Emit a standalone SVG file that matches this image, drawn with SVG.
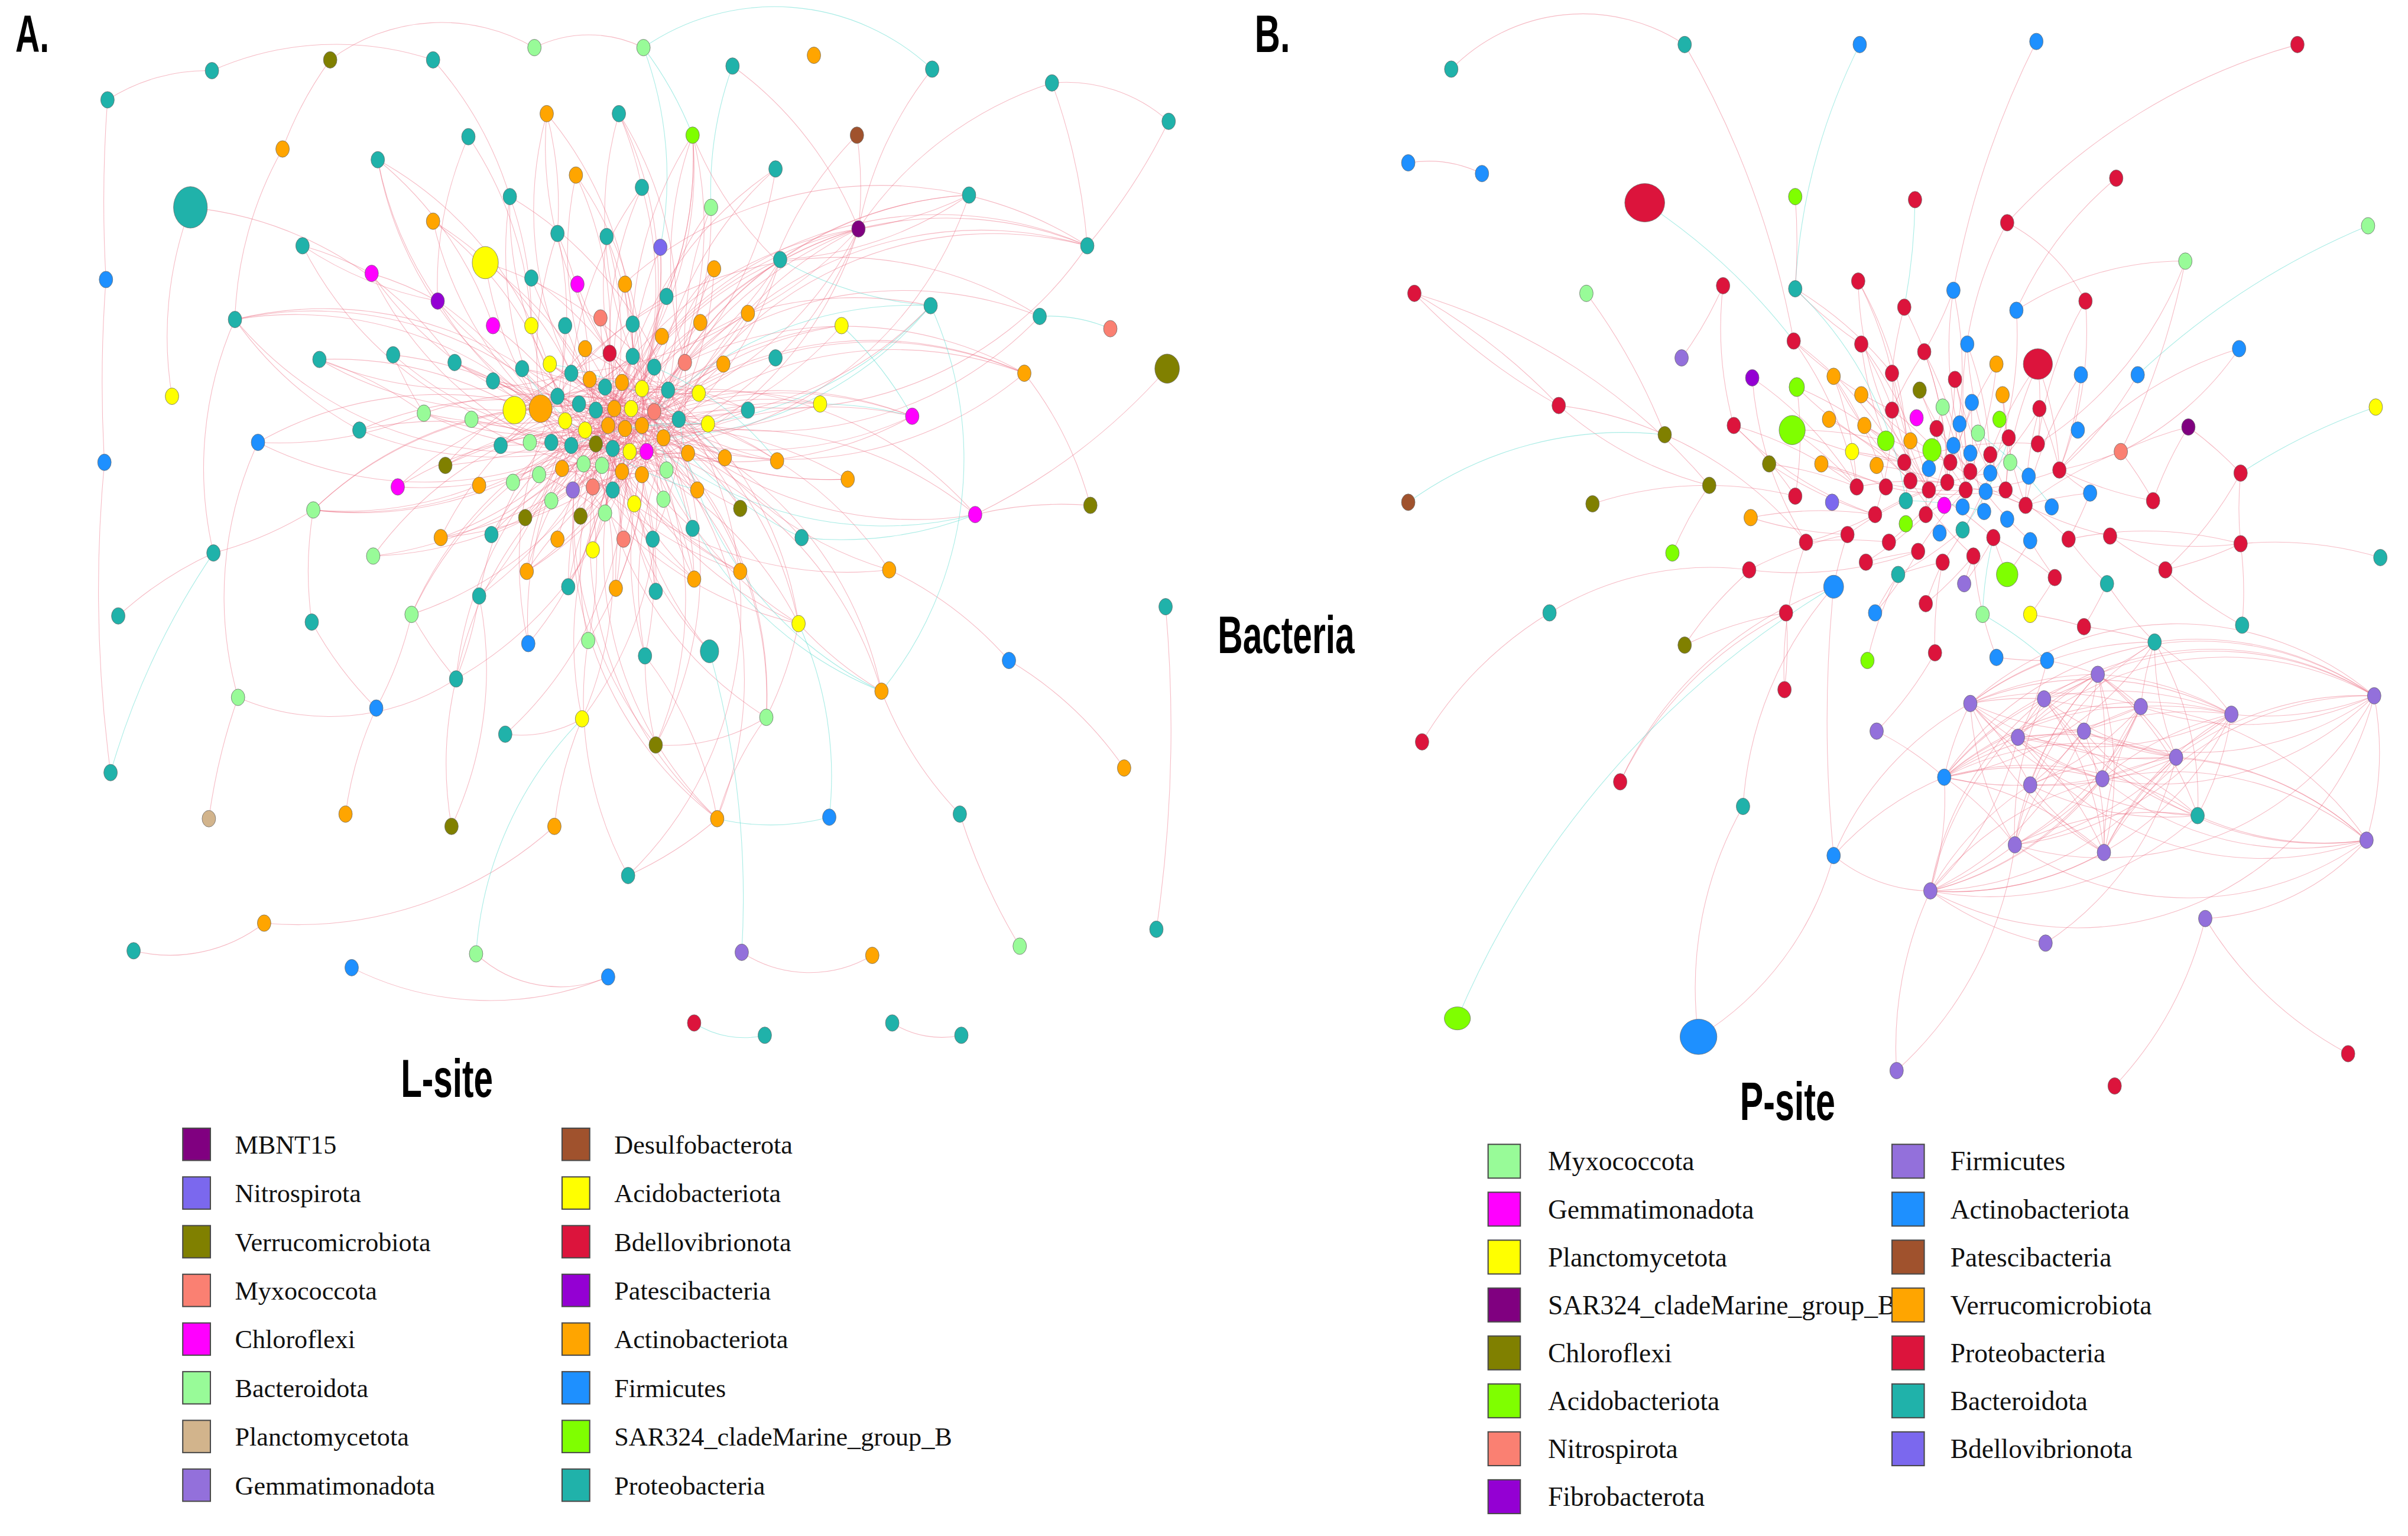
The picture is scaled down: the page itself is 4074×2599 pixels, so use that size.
<svg xmlns="http://www.w3.org/2000/svg" width="4074" height="2599" viewBox="0 0 4074 2599">
<style>
.pu{fill:#800080}.sl{fill:#7B68EE}.ol{fill:#808000}.sa{fill:#FA8072}.ma{fill:#FF00FF}.pg{fill:#98FB98}.ta{fill:#D2B48C}.mp{fill:#9370DB}.si{fill:#A0522D}.ye{fill:#FFFF00}.cr{fill:#DC143C}.vi{fill:#9400D3}.or{fill:#FFA500}.bl{fill:#1E90FF}.ch{fill:#7FFF00}.te{fill:#20B2AA}
ellipse{stroke:#6a6a6a;stroke-width:0.3}
.lg rect{stroke:#4a4a4a;stroke-width:0.8}
.e path{fill:none;stroke:#EC6F83;stroke-width:0.42;stroke-opacity:0.48}
.e path.c{stroke:#5FDCD0;stroke-opacity:0.55}
.lg{font-family:"Liberation Serif","Times New Roman",serif;font-size:17px;fill:#111}
.ttl{font-family:"Liberation Sans",Arial,sans-serif;font-weight:bold;fill:#000}
</style>
<rect x="0" y="0" width="4074" height="2599" fill="#ffffff"/>
<g transform="scale(2.5982,2.599)">
<g id="connectors" class="e">
<path d="M397 230A240 240 0 0 1 356 74"/><path d="M412 232A240 240 0 0 0 356 74"/>
<path d="M412 232A240 240 0 0 1 403 74"/><path d="M418 253A240 240 0 0 0 403 74"/>
<path d="M446 236A240 240 0 0 1 451 88"/><path d="M426 268A240 240 0 0 0 451 88"/><path d="M412 232A240 240 0 0 1 451 88"/><path d="M434 193A240 240 0 0 0 451 88"/>
<path d="M426 268A240 240 0 0 1 505 110"/><path d="M446 236A240 240 0 0 0 505 110"/>
<path d="M384 247A240 240 0 0 1 375 114"/><path d="M397 230A240 240 0 0 0 375 114"/>
<path d="M352 266A240 240 0 0 1 332 128"/><path d="M346 212A240 240 0 0 0 332 128"/>
<path d="M418 253A240 240 0 0 0 418 122"/><path d="M397 230A240 240 0 0 1 418 122"/>
<path d="M446 236A240 240 0 0 1 463 135"/><path d="M426 268A240 240 0 0 0 463 135"/>
<path d="M400 266A240 240 0 0 1 559 149"/><path d="M426 268A240 240 0 0 0 559 149"/><path d="M407 279A240 240 0 0 1 559 149"/><path d="M432 285A240 240 0 0 0 559 149"/><path d="M446 236A240 240 0 0 1 559 149"/><path d="M487 204A240 240 0 0 0 559 149"/><path d="M456 210A240 240 0 0 1 559 149"/>
<path d="M412 232A240 240 0 0 1 430 161"/><path d="M418 253A240 240 0 0 0 430 161"/>
<path d="M397 230A240 240 0 0 1 395 154"/><path d="M400 266A240 240 0 0 0 395 154"/>
<path d="M384 247A240 240 0 0 0 363 152"/><path d="M352 266A240 240 0 0 1 363 152"/>
<path d="M352 266A240 240 0 0 1 282 144"/><path d="M372 290A240 240 0 0 0 282 144"/>
<path d="M285 196A240 240 0 0 1 246 104"/><path d="M321 212A240 240 0 0 0 246 104"/>
<path d="M285 196A240 240 0 0 0 242 178"/><path d="M352 266A240 240 0 0 1 242 178"/>
<path d="M388 289A240 240 0 0 1 285 196"/><path d="M352 266A240 240 0 0 0 285 196"/>
<path d="M352 266A240 240 0 0 1 316 171"/><path d="M384 247A240 240 0 0 0 316 171"/>
<path d="M384 247A240 240 0 0 1 346 181"/><path d="M397 230A240 240 0 0 0 346 181"/>
<path d="M397 230A240 240 0 0 1 376 185"/>
<path d="M400 266A240 240 0 0 1 407 185"/><path d="M418 253A240 240 0 0 0 407 185"/><path d="M426 268A240 240 0 0 1 407 185"/>
<path d="M426 268A240 240 0 0 1 465 175"/><path d="M432 285A240 240 0 0 0 465 175"/><path d="M446 236A240 240 0 0 1 465 175"/>
<path d="M407 279A240 240 0 0 1 434 193"/><path d="M400 266A240 240 0 0 0 434 193"/>
<path d="M426 268A240 240 0 0 1 508 169"/><path d="M432 285A240 240 0 0 0 508 169"/><path d="M446 236A240 240 0 0 0 508 169"/><path d="M400 266A240 240 0 0 1 508 169"/>
<path d="M426 268A240 240 0 0 1 631 127"/><path d="M508 169A240 240 0 0 0 631 127"/>
<path class="c" d="M426 268A240 240 0 0 1 606 199"/><path class="c" d="M432 285A240 240 0 0 0 606 199"/><path d="M487 204A240 240 0 0 1 606 199"/>
<path d="M426 268A240 240 0 0 1 548 212"/><path d="M432 285A240 240 0 0 0 548 212"/>
<path d="M400 266A240 240 0 0 1 487 204"/><path d="M407 279A240 240 0 0 0 487 204"/><path d="M446 236A240 240 0 0 1 487 204"/>
<path d="M400 266A240 240 0 0 0 456 210"/><path d="M388 289A240 240 0 0 1 456 210"/>
<path d="M407 279A240 240 0 0 1 431 219"/><path d="M372 290A240 240 0 0 0 431 219"/>
<path d="M388 289A240 240 0 0 1 412 211"/>
<path d="M400 266A240 240 0 0 1 391 207"/><path d="M407 279A240 240 0 0 0 391 207"/>
<path d="M388 289A240 240 0 0 0 368 212"/><path d="M372 290A240 240 0 0 1 368 212"/>
<path d="M372 290A240 240 0 0 1 346 212"/><path d="M388 289A240 240 0 0 0 321 212"/>
<path d="M388 289A240 240 0 0 1 153 208"/><path d="M352 266A240 240 0 0 0 153 208"/><path d="M234 280A240 240 0 0 1 153 208"/>
<path d="M352 266A240 240 0 0 1 208 234"/><path d="M372 290A240 240 0 0 0 208 234"/><path d="M276 269A240 240 0 0 0 208 234"/>
<path d="M388 289A240 240 0 0 1 256 231"/><path d="M276 269A240 240 0 0 1 256 231"/>
<path d="M400 266A240 240 0 0 1 296 236"/><path d="M352 266A240 240 0 0 0 296 236"/>
<path d="M407 279A240 240 0 0 0 321 248"/><path d="M388 289A240 240 0 0 1 321 248"/>
<path d="M242 178A240 240 0 0 0 197 160"/><path d="M285 196A240 240 0 0 1 197 160"/>
<path d="M124 135A240 240 0 0 0 112 258"/>
<path d="M352 266A240 240 0 0 0 168 288"/><path d="M276 269A240 240 0 0 1 168 288"/>
<path d="M372 290A240 240 0 0 0 234 280"/><path d="M388 289A240 240 0 0 1 234 280"/>
<path d="M400 266A240 240 0 0 1 276 269"/><path d="M426 268A240 240 0 0 0 276 269"/><path d="M407 279A240 240 0 0 1 276 269"/>
<path d="M400 266A240 240 0 0 0 307 273"/><path d="M407 279A240 240 0 0 1 307 273"/>
<path d="M426 268A240 240 0 0 1 326 290"/><path d="M418 253A240 240 0 0 0 326 290"/>
<path d="M407 279A240 240 0 0 0 290 303"/><path d="M400 266A240 240 0 0 1 290 303"/>
<path d="M388 289A240 240 0 0 1 259 317"/><path d="M432 285A240 240 0 0 0 259 317"/>
<path d="M352 266A240 240 0 0 0 204 332"/><path d="M372 290A240 240 0 0 1 204 332"/><path d="M400 266A240 240 0 0 0 204 332"/><path d="M312 316A240 240 0 0 1 204 332"/>
<path d="M204 332A240 240 0 0 1 139 360"/>
<path d="M388 289A240 240 0 0 1 243 362"/><path d="M400 266A240 240 0 0 0 243 362"/>
<path d="M400 266A240 240 0 0 1 287 350"/><path d="M384 247A240 240 0 0 0 287 350"/>
<path d="M426 268A240 240 0 0 1 320 348"/><path d="M418 253A240 240 0 0 0 320 348"/>
<path d="M426 268A240 240 0 0 1 667 243"/><path d="M432 285A240 240 0 0 0 667 243"/><path d="M446 236A240 240 0 0 1 667 243"/>
<path d="M446 236A240 240 0 0 1 677 206"/><path d="M426 268A240 240 0 0 0 677 206"/>
<path d="M400 266A240 240 0 0 1 708 160"/><path d="M432 285A240 240 0 0 1 708 160"/><path d="M559 149A240 240 0 0 1 708 160"/><path d="M487 204A240 240 0 0 1 708 160"/>
<path d="M426 268A240 240 0 0 1 594 271"/><path d="M432 285A240 240 0 0 0 594 271"/><path d="M407 279A240 240 0 0 1 594 271"/>
<path d="M400 266A240 240 0 0 1 534 263"/><path d="M407 279A240 240 0 0 0 534 263"/>
<path d="M407 279A240 240 0 0 1 487 267"/><path d="M388 289A240 240 0 0 0 487 267"/>
<path d="M388 289A240 240 0 0 1 461 276"/>
<path d="M400 266A240 240 0 0 0 552 312"/><path d="M407 279A240 240 0 0 1 552 312"/>
<path d="M426 268A240 240 0 0 0 506 300"/>
<path d="M388 289A240 240 0 0 0 472 298"/><path d="M418 253A240 240 0 0 1 472 298"/>
<path d="M426 268A240 240 0 0 0 635 335"/><path d="M432 285A240 240 0 0 1 635 335"/><path class="c" d="M400 266A240 240 0 0 0 635 335"/><path d="M635 335A240 240 0 0 1 710 329"/><path class="c" d="M522 350A240 240 0 0 0 635 335"/>
<path d="M400 266A240 240 0 0 0 482 331"/><path d="M418 253A240 240 0 0 1 482 331"/>
<path class="c" d="M426 268A240 240 0 0 0 522 350"/><path d="M407 279A240 240 0 0 1 522 350"/>
<path d="M384 247A240 240 0 0 0 451 344"/><path d="M397 230A240 240 0 0 1 451 344"/>
<path d="M418 253A240 240 0 0 1 454 319"/><path d="M384 247A240 240 0 0 0 454 319"/>
<path d="M384 247A240 240 0 0 1 432 325"/><path d="M397 230A240 240 0 0 0 413 328"/>
<path d="M418 253A240 240 0 0 1 406 351"/><path d="M412 232A240 240 0 0 0 406 351"/>
<path d="M384 247A240 240 0 0 0 425 351"/><path d="M446 236A240 240 0 0 1 425 351"/>
<path d="M400 266A240 240 0 0 1 386 358"/><path d="M426 268A240 240 0 0 0 386 358"/>
<path d="M418 253A240 240 0 0 0 363 351"/>
<path d="M412 232A240 240 0 0 1 342 337"/><path d="M426 268A240 240 0 0 0 342 337"/>
<path d="M418 253A240 240 0 0 0 378 336"/><path d="M446 236A240 240 0 0 1 378 336"/>
<path d="M397 230A240 240 0 0 1 394 334"/>
<path d="M426 268A240 240 0 0 1 343 372"/><path d="M412 232A240 240 0 0 0 343 372"/><path d="M446 236A240 240 0 0 1 343 372"/><path d="M418 253A240 240 0 0 0 343 372"/>
<path d="M397 230A240 240 0 0 1 370 382"/><path d="M400 266A240 240 0 0 0 370 382"/>
<path d="M418 253A240 240 0 0 1 401 383"/><path d="M446 236A240 240 0 0 0 401 383"/>
<path d="M407 279A240 240 0 0 1 427 385"/><path d="M412 232A240 240 0 0 0 427 385"/>
<path d="M400 266A240 240 0 0 1 452 377"/><path d="M426 268A240 240 0 0 0 452 377"/><path d="M397 230A240 240 0 0 1 452 377"/><path d="M384 247A240 240 0 0 0 452 377"/>
<path d="M352 266A240 240 0 0 0 482 372"/><path d="M407 279A240 240 0 0 1 482 372"/><path d="M388 289A240 240 0 0 0 482 372"/>
<path d="M352 266A240 240 0 0 0 579 371"/><path d="M426 268A240 240 0 0 1 579 371"/>
<path d="M400 266A240 240 0 0 1 312 388"/><path d="M412 232A240 240 0 0 0 312 388"/>
<path d="M407 279A240 240 0 0 1 268 400"/><path d="M426 268A240 240 0 0 0 268 400"/>
<path d="M418 253A240 240 0 0 1 383 417"/><path d="M400 266A240 240 0 0 0 383 417"/>
<path d="M400 266A240 240 0 0 1 420 427"/><path d="M446 236A240 240 0 0 0 420 427"/>
<path d="M407 279A240 240 0 0 0 462 424"/>
<path d="M352 266A240 240 0 0 0 520 406"/><path d="M388 289A240 240 0 0 1 520 406"/><path d="M384 247A240 240 0 0 0 520 406"/><path d="M397 230A240 240 0 0 1 520 406"/>
<path class="c" d="M426 268A240 240 0 0 0 574 450"/><path d="M400 266A240 240 0 0 1 574 450"/>
<path d="M418 253A240 240 0 0 1 379 468"/><path d="M426 268A240 240 0 0 0 379 468"/>
<path d="M388 289A240 240 0 0 0 499 467"/><path d="M384 247A240 240 0 0 1 499 467"/>
<path d="M412 232A240 240 0 0 1 427 485"/><path d="M397 230A240 240 0 0 0 427 485"/>
<path d="M407 279A240 240 0 0 1 329 478"/>
<path d="M418 253A240 240 0 0 1 297 442"/><path d="M372 290A240 240 0 0 0 297 442"/>
<path d="M407 279A240 240 0 0 0 467 533"/><path d="M384 247A240 240 0 0 1 467 533"/><path d="M400 266A240 240 0 0 0 467 533"/>
<path d="M409 570A240 240 0 0 0 467 533"/>
<path d="M381 280A240 240 0 0 1 246 104"/><path d="M381 280A240 240 0 0 0 153 208"/><path d="M381 280A240 240 0 0 1 204 332"/><path d="M381 280A240 240 0 0 0 268 400"/><path d="M381 280A240 240 0 0 1 379 468"/><path d="M381 280A240 240 0 0 0 467 533"/><path d="M381 280A240 240 0 0 1 574 450"/><path d="M381 280A240 240 0 0 0 594 271"/><path d="M381 280A240 240 0 0 1 559 149"/><path d="M381 280A240 240 0 0 0 451 88"/><path d="M381 280A240 240 0 0 1 332 128"/>
<path d="M418 277A240 240 0 0 0 375 114"/><path d="M418 277A240 240 0 0 1 285 196"/><path d="M418 277A240 240 0 0 0 234 280"/><path d="M418 277A240 240 0 0 1 243 362"/><path d="M418 277A240 240 0 0 0 297 442"/><path d="M418 277A240 240 0 0 1 427 485"/><path d="M418 277A240 240 0 0 0 520 406"/><path d="M418 277A240 240 0 0 1 667 243"/><path class="c" d="M418 277A240 240 0 0 0 606 199"/><path d="M418 277A240 240 0 0 1 463 135"/><path d="M418 277A240 240 0 0 0 508 169"/>
<path d="M372 243A240 240 0 0 1 356 74"/><path d="M372 243A240 240 0 0 0 282 144"/><path d="M372 243A240 240 0 0 1 208 234"/><path d="M372 243A240 240 0 0 0 290 303"/><path d="M372 243A240 240 0 0 1 312 388"/><path d="M372 243A240 240 0 0 0 344 419"/><path d="M372 243A240 240 0 0 1 499 467"/><path d="M372 243A240 240 0 0 0 552 312"/><path d="M372 243A240 240 0 0 1 677 206"/><path d="M372 243A240 240 0 0 0 487 204"/><path d="M372 243A240 240 0 0 1 418 122"/>
<path d="M435 254A240 240 0 0 0 316 171"/><path d="M435 254A240 240 0 0 1 168 288"/><path d="M435 254A240 240 0 0 0 259 317"/><path d="M435 254A240 240 0 0 1 287 350"/><path d="M435 254A240 240 0 0 0 370 382"/><path d="M435 254A240 240 0 0 1 409 570"/><path d="M435 254A240 240 0 0 0 579 371"/><path d="M435 254A240 240 0 0 1 635 335"/><path d="M435 254A240 240 0 0 0 708 160"/><path d="M435 254A240 240 0 0 1 548 212"/><path d="M435 254A240 240 0 0 0 403 74"/>
<path d="M399 292A240 240 0 0 1 197 160"/><path d="M399 292A240 240 0 0 0 153 208"/><path d="M399 292A240 240 0 0 1 276 269"/><path d="M399 292A240 240 0 0 0 320 348"/><path d="M399 292A240 240 0 0 1 401 383"/><path d="M399 292A240 240 0 0 0 462 424"/><path d="M399 292A240 240 0 0 1 534 263"/><path d="M399 292A240 240 0 0 0 631 127"/><path d="M399 292A240 240 0 0 1 505 110"/><path d="M399 292A240 240 0 0 0 430 161"/>
<path d="M405 307A240 240 0 0 1 242 178"/><path d="M405 307A240 240 0 0 0 256 231"/><path d="M405 307A240 240 0 0 1 307 273"/><path d="M405 307A240 240 0 0 0 343 372"/><path d="M405 307A240 240 0 0 1 427 385"/><path d="M405 307A240 240 0 0 0 482 372"/><path d="M405 307A240 240 0 0 1 594 271"/><path d="M405 307A240 240 0 0 0 559 149"/><path d="M405 307A240 240 0 0 1 465 175"/><path d="M405 307A240 240 0 0 0 395 154"/>
<path d="M363 258A240 240 0 0 0 246 104"/><path d="M363 258A240 240 0 0 1 296 236"/><path d="M363 258A240 240 0 0 0 326 290"/><path d="M363 258A240 240 0 0 1 383 417"/><path d="M363 258A240 240 0 0 0 452 377"/><path d="M363 258A240 240 0 0 1 506 300"/><path d="M363 258A240 240 0 0 0 487 267"/><path d="M363 258A240 240 0 0 1 434 193"/><path d="M363 258A240 240 0 0 0 363 152"/>
<path d="M442 273A240 240 0 0 0 332 128"/><path d="M442 273A240 240 0 0 1 321 248"/><path d="M442 273A240 240 0 0 0 290 303"/><path d="M442 273A240 240 0 0 1 287 350"/><path d="M442 273A240 240 0 0 0 420 427"/><path d="M442 273A240 240 0 0 1 520 406"/><path class="c" d="M442 273A240 240 0 0 0 574 450"/><path d="M442 273A240 240 0 0 1 667 243"/><path d="M442 273A240 240 0 0 0 606 199"/><path d="M442 273A240 240 0 0 1 559 149"/>
<path d="M70 65A120 120 0 0 1 138 46"/><path d="M138 46A200 200 0 0 1 282 39"/><path d="M215 39A120 120 0 0 1 348 31"/><path d="M348 31A80 80 0 0 1 419 31"/>
<path class="c" d="M419 31A150 150 0 0 1 607 45"/>
<path d="M70 65A900 900 0 0 0 69 182"/><path d="M69 182A900 900 0 0 0 68 301"/><path d="M68 301A900 900 0 0 0 72 503"/>
<path d="M124 135A240 240 0 0 1 296 236"/><path d="M282 39A240 240 0 0 1 332 128"/><path d="M215 39A240 240 0 0 0 184 97"/><path d="M184 97A240 240 0 0 0 153 208"/>
<path class="c" d="M477 43A240 240 0 0 0 463 135"/><path d="M477 43A240 240 0 0 1 559 149"/>
<path class="c" d="M419 31A240 240 0 0 1 451 88"/><path class="c" d="M419 31A240 240 0 0 1 430 161"/>
<path d="M607 45A240 240 0 0 0 559 149"/><path d="M685 54A100 100 0 0 1 761 79"/><path d="M685 54A400 400 0 0 1 708 160"/><path d="M685 54A240 240 0 0 0 559 149"/><path d="M761 79A400 400 0 0 1 708 160"/>
<path d="M558 88A240 240 0 0 1 559 149"/><path d="M558 88A240 240 0 0 0 505 169"/><path d="M451 88A240 240 0 0 1 434 193"/><path d="M451 88A240 240 0 0 0 505 169"/>
<path d="M356 74A240 240 0 0 1 363 152"/><path d="M403 74A240 240 0 0 1 418 122"/>
<path d="M406 185A250 250 0 0 1 708 160"/><path class="c" d="M723 214A100 100 0 0 0 677 206"/><path d="M760 240A400 400 0 0 1 635 335"/>
<path d="M631 127A240 240 0 0 1 559 149"/><path d="M631 127A240 240 0 0 0 508 169"/>
<path d="M305 89A240 240 0 0 1 346 212"/><path d="M305 89A240 240 0 0 0 285 196"/>
<path d="M172 601A100 100 0 0 1 87 619"/><path d="M172 601A250 250 0 0 0 361 538"/><path d="M310 621A80 80 0 0 0 396 636"/><path d="M229 630A200 200 0 0 0 396 636"/>
<path d="M483 620A80 80 0 0 0 568 622"/><path d="M625 530A400 400 0 0 0 664 616"/><path class="c" d="M452 666A60 60 0 0 0 498 674"/><path d="M581 666A60 60 0 0 0 626 674"/>
<path d="M657 430A240 240 0 0 1 732 500"/><path d="M657 430A240 240 0 0 0 579 371"/><path d="M759 395A900 900 0 0 1 753 605"/>
<path d="M155 454A150 150 0 0 0 297 442"/><path d="M297 442A240 240 0 0 0 312 388"/><path d="M297 442A240 240 0 0 1 268 400"/>
<path d="M245 461A240 240 0 0 1 203 405"/><path d="M245 461A240 240 0 0 0 268 400"/><path d="M155 454A240 240 0 0 1 168 288"/>
<path d="M379 468A80 80 0 0 1 329 478"/><path d="M499 467A120 120 0 0 1 427 485"/><path d="M499 467A200 200 0 0 0 467 533"/><path d="M409 570A240 240 0 0 1 383 417"/>
<path d="M294 538A240 240 0 0 1 297 442"/><path d="M294 538A240 240 0 0 0 312 388"/><path d="M361 538A240 240 0 0 1 379 468"/>
<path class="c" d="M467 533A150 150 0 0 0 540 532"/><path class="c" d="M540 532A240 240 0 0 0 520 406"/><path d="M625 530A240 240 0 0 1 574 450"/>
<path d="M225 530A240 240 0 0 1 245 461"/><path d="M136 533A400 400 0 0 1 155 454"/><path class="c" d="M72 503A500 500 0 0 1 139 360"/>
<path class="c" d="M310 621A240 240 0 0 1 379 468"/><path class="c" d="M483 620A600 600 0 0 0 462 424"/>
<path d="M203 405A240 240 0 0 1 204 332"/><path d="M77 401A240 240 0 0 1 139 360"/><path d="M139 360A240 240 0 0 1 153 208"/>
<path d="M520 406A240 240 0 0 1 499 467"/><path d="M520 406A240 240 0 0 0 574 450"/><path class="c" d="M574 450A240 240 0 0 0 606 199"/><path d="M710 329A240 240 0 0 0 667 243"/>
<path d="M467 533A240 240 0 0 0 420 427"/><path d="M427 485A240 240 0 0 1 420 427"/><path d="M344 419A240 240 0 0 1 372 290"/><path d="M344 419A240 240 0 0 0 400 266"/>
<path class="c" d="M606 199A240 240 0 0 1 508 169"/><path class="c" d="M594 271A240 240 0 0 0 534 263"/><path class="c" d="M548 212A240 240 0 0 1 594 271"/>
<path d="M358 237A200 200 0 0 1 400 266"/><path d="M358 237A200 200 0 0 0 426 268"/><path d="M381 227A200 200 0 0 1 407 279"/><path d="M381 227A200 200 0 0 0 435 254"/>
<path d="M397 230A200 200 0 0 1 388 289"/><path d="M397 230A200 200 0 0 0 442 273"/><path d="M412 232A200 200 0 0 1 372 290"/><path d="M412 232A200 200 0 0 0 432 285"/>
<path d="M426 239A200 200 0 0 1 359 288"/><path d="M426 239A200 200 0 0 0 410 294"/><path d="M446 236A200 200 0 0 1 381 280"/><path d="M446 236A200 200 0 0 0 399 292"/>
<path d="M471 237A200 200 0 0 1 388 267"/><path d="M471 237A200 200 0 0 0 418 309"/><path d="M340 240A200 200 0 0 1 411 266"/><path d="M340 240A200 200 0 0 0 421 294"/>
<path d="M372 243A200 200 0 0 1 448 295"/><path d="M372 243A200 200 0 0 0 418 277"/><path d="M384 247A200 200 0 0 1 434 306"/><path d="M384 247A200 200 0 0 0 455 256"/>
<path d="M405 249A200 200 0 0 1 366 305"/><path d="M405 249A200 200 0 0 0 386 317"/><path d="M418 253A200 200 0 0 1 380 302"/><path d="M418 253A200 200 0 0 0 345 288"/>
<path d="M435 254A200 200 0 0 1 392 303"/><path d="M435 254A200 200 0 0 0 368 274"/><path d="M455 256A200 200 0 0 1 377 263"/><path d="M455 256A200 200 0 0 0 399 319"/>
<path d="M394 252A200 200 0 0 1 432 285"/><path d="M394 252A200 200 0 0 0 405 307"/><path d="M363 258A200 200 0 0 1 442 273"/><path d="M363 258A200 200 0 0 0 410 294"/>
<path d="M377 263A200 200 0 0 1 421 294"/><path d="M377 263A200 200 0 0 0 434 306"/><path d="M388 267A200 200 0 0 1 448 295"/><path d="M388 267A200 200 0 0 0 359 326"/>
<path d="M400 266A200 200 0 0 1 373 319"/><path d="M400 266A200 200 0 0 0 351 309"/><path d="M411 266A200 200 0 0 1 334 314"/><path d="M411 266A200 200 0 0 0 394 334"/>
<path d="M426 268A200 200 0 0 1 366 305"/><path d="M426 268A200 200 0 0 0 380 302"/><path d="M442 273A200 200 0 0 1 386 317"/><path d="M442 273A200 200 0 0 0 345 288"/>
<path d="M368 274A200 200 0 0 1 418 309"/><path d="M368 274A200 200 0 0 0 448 295"/><path d="M381 280A200 200 0 0 1 434 306"/><path d="M381 280A200 200 0 0 0 455 256"/>
<path d="M396 277A200 200 0 0 1 359 326"/><path d="M396 277A200 200 0 0 0 446 236"/><path d="M407 279A200 200 0 0 1 352 266"/><path d="M407 279A200 200 0 0 0 335 267"/>
<path d="M418 277A200 200 0 0 1 372 243"/><path d="M418 277A200 200 0 0 0 392 303"/><path d="M432 285A200 200 0 0 1 359 288"/><path d="M432 285A200 200 0 0 0 373 319"/>
<path d="M345 288A200 200 0 0 1 399 292"/><path d="M359 288A200 200 0 0 0 421 294"/><path d="M372 290A200 200 0 0 1 434 306"/><path d="M388 289A200 200 0 0 0 448 295"/>
<path d="M399 292A200 200 0 0 1 351 309"/><path d="M410 294A200 200 0 0 0 366 305"/><path d="M421 294A200 200 0 0 1 380 302"/><path d="M448 295A200 200 0 0 0 392 303"/>
<path d="M366 305A200 200 0 0 1 399 319"/><path d="M380 302A200 200 0 0 0 418 309"/><path d="M392 303A200 200 0 0 1 359 326"/><path d="M405 307A200 200 0 0 0 334 314"/>
<path d="M418 309A200 200 0 0 1 386 317"/><path d="M434 306A200 200 0 0 0 373 319"/><path d="M351 309A200 200 0 0 1 394 334"/><path d="M335 267A200 200 0 0 0 381 227"/>
<path d="M335 267A200 200 0 0 1 435 254"/><path d="M352 266A200 200 0 0 0 412 232"/><path d="M352 266A200 200 0 0 1 426 268"/><path d="M335 267A200 200 0 0 1 397 230"/><path d="M352 266A200 200 0 0 0 388 289"/>
<path d="M358 237A200 200 0 0 1 432 325"/><path d="M381 227A200 200 0 0 0 413 328"/><path d="M426 239A200 200 0 0 1 378 336"/><path d="M471 237A200 200 0 0 0 342 337"/>
<path d="M340 240A200 200 0 0 1 454 319"/><path d="M455 256A200 200 0 0 0 335 267"/><path d="M461 276A200 200 0 0 1 363 258"/><path d="M487 267A200 200 0 0 0 384 247"/>
<path d="M472 298A200 200 0 0 1 405 249"/><path d="M482 331A200 200 0 0 0 411 266"/><path d="M506 300A200 200 0 0 1 394 252"/><path d="M534 263A200 200 0 0 0 418 277"/>
<path class="c" d="M472 298A200 200 0 0 0 358 237"/><path class="c" d="M454 319A200 200 0 0 1 340 240"/><path class="c" d="M506 300A200 200 0 0 0 426 239"/><path class="c" d="M461 276A200 200 0 0 0 372 290"/>
<path d="M945 45A120 120 0 0 1 1097 29"/><path d="M1097 29A600 600 0 0 1 1168 222"/><path class="c" d="M1211 29A400 400 0 0 0 1169 188"/><path d="M1326 27A600 600 0 0 0 1272 189"/>
<path d="M1496 29A400 400 0 0 0 1307 145"/><path d="M917 106A80 80 0 0 1 965 113"/><path class="c" d="M1071 132A400 400 0 0 1 1168 222"/><path d="M1169 128A400 400 0 0 1 1169 188"/>
<path class="c" d="M1247 130A400 400 0 0 1 1240 200"/><path d="M1378 116A240 240 0 0 0 1313 202"/><path d="M1307 145A120 120 0 0 1 1358 196"/><path class="c" d="M1542 147A500 500 0 0 0 1392 244"/>
<path d="M1423 170A500 500 0 0 1 1381 294"/><path d="M1423 170A200 200 0 0 0 1313 202"/>
<path d="M921 191A400 400 0 0 1 1015 264"/><path d="M921 191A400 400 0 0 0 1015 264"/><path d="M921 191A400 400 0 0 1 1113 316"/><path d="M1033 191A400 400 0 0 1 1084 283"/>
<path d="M1015 264A240 240 0 0 1 1084 283"/><path d="M1015 264A240 240 0 0 0 1113 316"/><path class="c" d="M917 327A240 240 0 0 1 1084 283"/><path d="M1037 328A240 240 0 0 1 1113 316"/><path d="M1089 360A240 240 0 0 1 1113 316"/>
<path d="M1168 222A240 240 0 0 1 1209 317"/><path d="M1168 222A240 240 0 0 0 1232 267"/><path d="M1168 222A240 240 0 0 1 1244 313"/>
<path d="M1169 188A240 240 0 0 1 1232 243"/><path d="M1169 188A240 240 0 0 0 1212 224"/><path d="M1122 186A240 240 0 0 0 1129 277"/><path d="M1122 186A240 240 0 0 1 1095 233"/>
<path d="M1210 183A240 240 0 0 1 1232 243"/><path d="M1210 183A240 240 0 0 0 1256 319"/><path d="M1210 183A240 240 0 0 1 1241 326"/>
<path d="M1240 200A240 240 0 0 0 1232 243"/><path d="M1240 200A240 240 0 0 1 1268 314"/>
<path d="M1272 189A240 240 0 0 1 1253 229"/><path d="M1272 189A240 240 0 0 0 1283 307"/><path d="M1272 189A240 240 0 0 1 1270 301"/>
<path d="M1313 202A240 240 0 0 1 1296 308"/><path d="M1307 145A240 240 0 0 0 1283 307"/><path d="M1358 196A240 240 0 0 1 1341 306"/><path d="M1358 196A240 240 0 0 0 1327 289"/>
<path d="M1423 170A240 240 0 0 1 1327 289"/><path d="M1458 227A200 200 0 0 1 1381 294"/><path d="M1458 227A240 240 0 0 0 1341 306"/>
<path d="M1253 229A240 240 0 0 1 1268 314"/><path d="M1253 229A240 240 0 0 0 1232 267"/><path d="M1253 229A240 240 0 0 1 1280 319"/>
<path d="M1212 224A240 240 0 0 1 1244 313"/><path d="M1212 224A240 240 0 0 0 1228 287"/><path d="M1212 224A240 240 0 0 1 1256 319"/>
<path d="M1281 224A240 240 0 0 1 1296 308"/><path d="M1281 224A240 240 0 0 0 1306 319"/>
<path d="M1327 237A240 240 0 0 1 1327 289"/><path d="M1327 237A240 240 0 0 0 1306 319"/><path d="M1327 237A240 240 0 0 1 1341 306"/><path d="M1327 237A240 240 0 0 0 1296 296"/>
<path d="M1300 237A240 240 0 0 1 1283 307"/><path d="M1300 237A240 240 0 0 0 1268 314"/>
<path d="M1232 243A240 240 0 0 1 1244 313"/><path d="M1232 243A240 240 0 0 0 1256 319"/><path d="M1232 243A240 240 0 0 1 1221 335"/>
<path d="M1273 247A240 240 0 0 1 1280 319"/><path d="M1273 247A240 240 0 0 0 1296 308"/><path d="M1273 247A240 240 0 0 1 1254 335"/>
<path d="M1355 244A240 240 0 0 1 1341 306"/><path d="M1355 244A240 240 0 0 0 1319 329"/><path d="M1392 244A240 240 0 0 1 1341 306"/>
<path d="M1194 245A240 240 0 0 1 1228 317"/><path d="M1194 245A240 240 0 0 0 1244 313"/><path d="M1194 245A240 240 0 0 1 1209 317"/>
<path d="M1141 246A240 240 0 0 1 1209 317"/><path d="M1141 246A240 240 0 0 0 1176 353"/>
<path d="M1170 252A240 240 0 0 1 1228 287"/><path d="M1170 252A240 240 0 0 0 1240 301"/><path d="M1170 252A240 240 0 0 1 1169 323"/>
<path d="M1212 257A240 240 0 0 1 1256 319"/><path d="M1212 257A240 240 0 0 0 1270 301"/><path d="M1250 254A240 240 0 0 1 1268 314"/><path d="M1250 254A240 240 0 0 0 1283 307"/>
<path d="M1304 257A240 240 0 0 1 1306 319"/><path d="M1304 257A240 240 0 0 0 1319 329"/><path d="M1284 262A240 240 0 0 1 1270 301"/><path d="M1284 262A240 240 0 0 0 1292 333"/>
<path d="M1265 265A240 240 0 0 1 1280 319"/><path d="M1265 265A240 240 0 0 0 1254 335"/>
<path d="M1328 266A240 240 0 0 1 1296 308"/><path d="M1328 266A240 240 0 0 0 1319 329"/><path d="M1328 266A240 240 0 0 1 1341 306"/>
<path class="c" d="M1547 265A400 400 0 0 0 1459 308"/><path d="M1425 278A240 240 0 0 0 1381 294"/><path d="M1425 278A240 240 0 0 1 1459 308"/><path d="M1425 278A240 240 0 0 0 1402 326"/>
<path d="M1129 277A240 240 0 0 1 1209 317"/><path d="M1129 277A240 240 0 0 0 1221 335"/><path d="M1129 277A240 240 0 0 1 1169 323"/>
<path d="M1167 280A240 240 0 0 1 1228 287"/><path d="M1167 280A240 240 0 0 0 1240 301"/><path d="M1167 280A240 240 0 0 1 1209 317"/>
<path d="M1191 273A240 240 0 0 1 1244 313"/><path d="M1214 277A240 240 0 0 1 1256 319"/><path d="M1214 277A240 240 0 0 0 1270 301"/>
<path d="M1381 294A240 240 0 0 1 1341 306"/><path d="M1381 294A240 240 0 0 0 1319 329"/><path d="M1381 294A240 240 0 0 1 1402 326"/>
<path d="M1084 283A240 240 0 0 1 1176 353"/><path d="M1113 316A240 240 0 0 1 1169 323"/>
<path d="M1152 302A240 240 0 0 1 1209 317"/><path d="M1152 302A240 240 0 0 0 1221 335"/><path d="M1186 302A240 240 0 0 1 1228 317"/><path d="M1186 302A240 240 0 0 0 1256 319"/>
<path d="M1206 294A240 240 0 0 1 1240 301"/><path d="M1222 303A240 240 0 0 1 1268 314"/>
<path d="M1361 321A240 240 0 0 1 1341 306"/><path d="M1361 321A240 240 0 0 0 1319 329"/><path d="M1361 321A240 240 0 0 1 1347 351"/><path d="M1402 326A240 240 0 0 1 1341 306"/>
<path d="M1459 308A240 240 0 0 1 1410 371"/><path d="M1459 308A240 240 0 0 0 1459 354"/><path d="M1459 354A240 240 0 0 1 1374 349"/><path d="M1459 354A240 240 0 0 0 1347 351"/><path d="M1459 354A240 240 0 0 1 1410 371"/><path d="M1550 363A240 240 0 0 0 1459 354"/>
<path d="M1140 337A240 240 0 0 1 1221 335"/><path d="M1140 337A240 240 0 0 0 1203 348"/><path d="M1176 353A240 240 0 0 1 1230 353"/><path d="M1176 353A240 240 0 0 0 1221 335"/>
<path d="M1203 348A240 240 0 0 1 1256 319"/><path d="M1230 353A240 240 0 0 0 1268 314"/><path d="M1249 359A240 240 0 0 1 1280 319"/><path d="M1265 366A240 240 0 0 0 1296 308"/>
<path d="M1285 362A240 240 0 0 1 1244 313"/><path d="M1298 350A240 240 0 0 0 1256 319"/><path d="M1322 352A240 240 0 0 1 1283 307"/><path d="M1347 351A240 240 0 0 0 1306 319"/><path d="M1374 349A240 240 0 0 1 1319 329"/>
<path d="M1139 371A240 240 0 0 1 1203 348"/><path d="M1139 371A240 240 0 0 0 1249 359"/><path d="M1215 366A240 240 0 0 1 1249 359"/><path d="M1215 366A240 240 0 0 0 1254 335"/>
<path d="M1338 376A240 240 0 0 1 1322 352"/><path d="M1338 376A240 240 0 0 0 1298 350"/><path d="M1410 371A240 240 0 0 1 1374 349"/><path d="M1372 380A240 240 0 0 1 1347 351"/><path d="M1372 380A240 240 0 0 0 1403 418"/>
<path d="M1236 374A240 240 0 0 1 1265 366"/><path d="M1236 374A240 240 0 0 0 1278 345"/><path d="M1279 380A240 240 0 0 1 1285 362"/><path d="M1279 380A240 240 0 0 0 1298 350"/>
<path d="M1307 374A240 240 0 0 1 1298 350"/><path d="M1307 374A240 240 0 0 0 1322 352"/><path d="M1194 382A240 240 0 0 1 1203 348"/>
<path d="M1209 317A200 200 0 0 1 1268 314"/><path d="M1228 317A200 200 0 0 0 1306 319"/><path d="M1244 313A200 200 0 0 1 1319 329"/><path d="M1256 319A200 200 0 0 0 1341 306"/><path d="M1221 335A200 200 0 0 1 1296 308"/><path d="M1254 335A200 200 0 0 0 1308 285"/><path d="M1240 301A200 200 0 0 1 1327 289"/><path d="M1261 279A200 200 0 0 0 1283 307"/><path d="M1232 267A200 200 0 0 1 1280 319"/><path d="M1270 301A200 200 0 0 0 1319 329"/>
<path class="c" d="M1241 326A200 200 0 0 1 1292 333"/><path class="c" d="M1278 345A200 200 0 0 0 1308 285"/><path class="c" d="M1288 282A200 200 0 0 1 1336 330"/><path class="c" d="M1169 188A240 240 0 0 1 1241 326"/>
<path d="M1009 399A200 200 0 0 1 1139 371"/><path d="M926 483A240 240 0 0 1 1009 399"/><path d="M1055 509A240 240 0 0 1 1163 399"/><path d="M1055 509A240 240 0 0 1 1194 382"/>
<path d="M1097 420A240 240 0 0 1 1163 399"/><path d="M1097 420A240 240 0 0 1 1140 371"/><path class="c" d="M949 663A600 600 0 0 1 1194 382"/>
<path d="M1106 675A240 240 0 0 1 1135 525"/><path d="M1106 675A200 200 0 0 0 1194 557"/><path d="M1194 557A900 900 0 0 1 1194 382"/><path d="M1194 557A200 200 0 0 1 1266 506"/><path d="M1194 557A100 100 0 0 0 1257 580"/>
<path d="M1235 697A240 240 0 0 1 1257 580"/><path d="M1235 697A240 240 0 0 0 1312 550"/><path d="M1377 707A240 240 0 0 0 1436 598"/><path d="M1529 686A240 240 0 0 1 1436 598"/><path d="M1436 598A150 150 0 0 0 1541 547"/>
<path d="M1332 614A200 200 0 0 1 1257 580"/><path d="M1332 614A200 200 0 0 0 1417 493"/><path d="M1222 476A240 240 0 0 0 1260 425"/>
<path d="M1162 449A240 240 0 0 1 1176 353"/><path d="M1162 449A240 240 0 0 0 1163 399"/><path d="M1221 399A240 240 0 0 1 1236 374"/><path d="M1221 399A240 240 0 0 0 1249 359"/>
<path d="M1254 393A240 240 0 0 1 1265 366"/><path d="M1254 393A240 240 0 0 0 1285 362"/><path class="c" d="M1291 400A240 240 0 0 1 1298 350"/><path class="c" d="M1291 400A240 240 0 0 1 1333 430"/>
<path d="M1322 400A240 240 0 0 1 1357 408"/><path d="M1322 400A240 240 0 0 0 1338 376"/><path d="M1357 408A240 240 0 0 1 1403 418"/><path d="M1357 408A240 240 0 0 0 1372 380"/>
<path d="M1460 407A240 240 0 0 1 1410 371"/><path d="M1460 407A240 240 0 0 0 1459 354"/><path d="M1216 430A240 240 0 0 1 1236 374"/><path d="M1260 425A240 240 0 0 1 1265 366"/>
<path d="M1300 428A240 240 0 0 1 1285 362"/><path d="M1300 428A240 240 0 0 0 1333 430"/>
<path d="M1333 430A200 200 0 0 1 1366 439"/><path d="M1333 430A200 200 0 0 0 1283 458"/><path d="M1333 430A200 200 0 0 1 1314 480"/>
<path d="M1403 418A200 200 0 0 1 1366 439"/><path d="M1403 418A200 200 0 0 0 1394 460"/><path d="M1403 418A200 200 0 0 1 1453 465"/><path d="M1403 418A200 200 0 0 1 1546 453"/><path d="M1403 418A200 200 0 0 0 1417 493"/><path d="M1403 418A200 200 0 0 1 1431 531"/><path d="M1403 418A200 200 0 0 0 1283 458"/><path d="M1403 418A200 200 0 0 1 1266 506"/><path d="M1403 418A200 200 0 0 0 1312 550"/>
<path d="M1194 557A200 200 0 0 1 1283 458"/><path d="M1222 476A200 200 0 0 1 1266 506"/><path d="M1135 525A240 240 0 0 1 1194 382"/>
<path d="M1366 439A200 200 0 0 0 1283 458"/><path d="M1366 439A200 200 0 0 1 1331 455"/><path d="M1366 439A200 200 0 0 1 1394 460"/><path d="M1366 439A200 200 0 0 1 1453 465"/><path d="M1366 439A200 200 0 0 1 1546 453"/><path d="M1366 439A200 200 0 0 0 1314 480"/><path d="M1366 439A200 200 0 0 1 1357 476"/><path d="M1366 439A200 200 0 0 1 1417 493"/><path d="M1366 439A200 200 0 0 0 1322 511"/><path d="M1366 439A200 200 0 0 1 1369 507"/><path d="M1366 439A200 200 0 0 0 1312 550"/><path d="M1366 439A200 200 0 0 1 1370 555"/><path d="M1366 439A200 200 0 0 0 1257 580"/><path d="M1366 439A200 200 0 0 0 1266 506"/><path d="M1366 439A200 200 0 0 1 1431 531"/>
<path d="M1283 458A200 200 0 0 1 1331 455"/><path d="M1283 458A200 200 0 0 1 1394 460"/><path d="M1283 458A200 200 0 0 1 1453 465"/><path d="M1283 458A200 200 0 0 1 1546 453"/><path d="M1283 458A200 200 0 0 0 1357 476"/><path d="M1283 458A200 200 0 0 0 1417 493"/><path d="M1283 458A200 200 0 0 1 1322 511"/><path d="M1283 458A200 200 0 0 0 1369 507"/><path d="M1283 458A200 200 0 0 0 1312 550"/><path d="M1283 458A200 200 0 0 0 1370 555"/><path d="M1283 458A200 200 0 0 0 1266 506"/><path d="M1283 458A200 200 0 0 0 1431 531"/>
<path d="M1331 455A200 200 0 0 0 1394 460"/><path d="M1331 455A200 200 0 0 1 1453 465"/><path d="M1331 455A200 200 0 0 1 1546 453"/><path d="M1331 455A200 200 0 0 0 1314 480"/><path d="M1331 455A200 200 0 0 0 1417 493"/><path d="M1331 455A200 200 0 0 1 1369 507"/><path d="M1331 455A200 200 0 0 0 1312 550"/><path d="M1331 455A200 200 0 0 1 1370 555"/><path d="M1331 455A200 200 0 0 0 1257 580"/><path d="M1331 455A200 200 0 0 0 1266 506"/><path d="M1331 455A200 200 0 0 0 1431 531"/>
<path d="M1394 460A200 200 0 0 1 1453 465"/><path d="M1394 460A200 200 0 0 0 1546 453"/><path d="M1394 460A200 200 0 0 1 1314 480"/><path d="M1394 460A200 200 0 0 0 1357 476"/><path d="M1394 460A200 200 0 0 1 1322 511"/><path d="M1394 460A200 200 0 0 0 1369 507"/><path d="M1394 460A200 200 0 0 1 1312 550"/><path d="M1394 460A200 200 0 0 0 1370 555"/><path d="M1394 460A200 200 0 0 1 1541 547"/><path d="M1394 460A200 200 0 0 1 1257 580"/><path d="M1394 460A200 200 0 0 0 1266 506"/>
<path d="M1453 465A200 200 0 0 0 1546 453"/><path d="M1453 465A200 200 0 0 1 1314 480"/><path d="M1453 465A200 200 0 0 0 1357 476"/><path d="M1453 465A200 200 0 0 1 1322 511"/><path d="M1453 465A200 200 0 0 0 1369 507"/><path d="M1453 465A200 200 0 0 1 1312 550"/><path d="M1453 465A200 200 0 0 0 1370 555"/><path d="M1453 465A200 200 0 0 1 1257 580"/><path d="M1453 465A200 200 0 0 0 1266 506"/><path d="M1453 465A200 200 0 0 1 1431 531"/>
<path d="M1546 453A200 200 0 0 0 1314 480"/><path d="M1546 453A200 200 0 0 1 1357 476"/><path d="M1546 453A200 200 0 0 0 1417 493"/><path d="M1546 453A200 200 0 0 1 1369 507"/><path d="M1546 453A200 200 0 0 1 1312 550"/><path d="M1546 453A200 200 0 0 0 1370 555"/><path d="M1546 453A200 200 0 0 1 1541 547"/><path d="M1546 453A200 200 0 0 0 1266 506"/>
<path d="M1314 480A200 200 0 0 1 1417 493"/><path d="M1314 480A200 200 0 0 0 1369 507"/><path d="M1314 480A200 200 0 0 1 1370 555"/><path d="M1314 480A200 200 0 0 0 1541 547"/><path d="M1314 480A200 200 0 0 1 1257 580"/><path d="M1314 480A200 200 0 0 0 1266 506"/><path d="M1314 480A200 200 0 0 1 1431 531"/>
<path d="M1357 476A200 200 0 0 0 1417 493"/><path d="M1357 476A200 200 0 0 1 1322 511"/><path d="M1357 476A200 200 0 0 0 1312 550"/><path d="M1357 476A200 200 0 0 1 1370 555"/><path d="M1357 476A200 200 0 0 0 1541 547"/><path d="M1357 476A200 200 0 0 1 1257 580"/><path d="M1357 476A200 200 0 0 0 1266 506"/>
<path d="M1417 493A200 200 0 0 1 1322 511"/><path d="M1417 493A200 200 0 0 0 1369 507"/><path d="M1417 493A200 200 0 0 1 1312 550"/><path d="M1417 493A200 200 0 0 0 1370 555"/><path d="M1417 493A200 200 0 0 1 1541 547"/><path d="M1417 493A200 200 0 0 1 1257 580"/><path d="M1417 493A200 200 0 0 0 1266 506"/>
<path d="M1322 511A200 200 0 0 0 1370 555"/><path d="M1322 511A200 200 0 0 1 1541 547"/><path d="M1322 511A200 200 0 0 0 1257 580"/><path d="M1322 511A200 200 0 0 1 1266 506"/><path d="M1322 511A200 200 0 0 0 1431 531"/>
<path d="M1369 507A200 200 0 0 1 1312 550"/><path d="M1369 507A200 200 0 0 0 1541 547"/><path d="M1369 507A200 200 0 0 1 1257 580"/><path d="M1369 507A200 200 0 0 0 1266 506"/>
<path d="M1312 550A200 200 0 0 0 1541 547"/><path d="M1312 550A200 200 0 0 1 1257 580"/><path d="M1312 550A200 200 0 0 0 1266 506"/><path d="M1312 550A200 200 0 0 1 1431 531"/>
<path d="M1370 555A200 200 0 0 1 1257 580"/><path d="M1370 555A200 200 0 0 0 1266 506"/><path d="M1541 547A200 200 0 0 1 1431 531"/>
<path d="M1257 580A200 200 0 0 0 1266 506"/><path d="M1257 580A200 200 0 0 0 1431 531"/><path d="M1266 506A200 200 0 0 1 1431 531"/><path d="M1257 580A200 200 0 0 0 1546 453"/><path d="M1257 580A200 200 0 0 1 1541 547"/>
</g>
<g id="nodes-A">
<g id="a1"><ellipse class="te" cx="70" cy="65" rx="4.4" ry="5.4"/></g>
<g id="a2"><ellipse class="te" cx="138" cy="46" rx="4.4" ry="5.4"/></g>
<g id="a3"><ellipse class="ol" cx="215" cy="39" rx="4.4" ry="5.4"/></g>
<g id="a4"><ellipse class="te" cx="282" cy="39" rx="4.4" ry="5.4"/></g>
<g id="a5"><ellipse class="pg" cx="348" cy="31" rx="4.4" ry="5.4"/></g>
<g id="a6"><ellipse class="pg" cx="419" cy="31" rx="4.4" ry="5.4"/></g>
<g id="a7"><ellipse class="te" cx="477" cy="43" rx="4.4" ry="5.4"/></g>
<g id="a8"><ellipse class="or" cx="530" cy="36" rx="4.4" ry="5.4"/></g>
<g id="a9"><ellipse class="te" cx="607" cy="45" rx="4.4" ry="5.4"/></g>
<g id="a10"><ellipse class="te" cx="685" cy="54" rx="4.4" ry="5.4"/></g>
<g id="a11"><ellipse class="te" cx="761" cy="79" rx="4.4" ry="5.4"/></g>
<g id="a12"><ellipse class="or" cx="356" cy="74" rx="4.4" ry="5.4"/></g>
<g id="a13"><ellipse class="te" cx="403" cy="74" rx="4.4" ry="5.4"/></g>
<g id="a14"><ellipse class="ch" cx="451" cy="88" rx="4.4" ry="5.4"/></g>
<g id="a15"><ellipse class="si" cx="558" cy="88" rx="4.4" ry="5.4"/></g>
<g id="a16"><ellipse class="te" cx="305" cy="89" rx="4.4" ry="5.4"/></g>
<g id="a17"><ellipse class="or" cx="184" cy="97" rx="4.4" ry="5.4"/></g>
<g id="a18"><ellipse class="te" cx="246" cy="104" rx="4.4" ry="5.4"/></g>
<g id="a19"><ellipse class="or" cx="375" cy="114" rx="4.4" ry="5.4"/></g>
<g id="a20"><ellipse class="te" cx="505" cy="110" rx="4.4" ry="5.4"/></g>
<g id="a21"><ellipse class="te" cx="332" cy="128" rx="4.4" ry="5.4"/></g>
<g id="a22"><ellipse class="te" cx="418" cy="122" rx="4.4" ry="5.4"/></g>
<g id="a23"><ellipse class="pg" cx="463" cy="135" rx="4.4" ry="5.4"/></g>
<g id="a24"><ellipse class="te" cx="631" cy="127" rx="4.4" ry="5.4"/></g>
<g id="a25"><ellipse class="te" cx="124" cy="135" rx="11" ry="13.5"/></g>
<g id="a26"><ellipse class="or" cx="282" cy="144" rx="4.4" ry="5.4"/></g>
<g id="a27"><ellipse class="pu" cx="559" cy="149" rx="4.4" ry="5.4"/></g>
<g id="a28"><ellipse class="te" cx="363" cy="152" rx="4.4" ry="5.4"/></g>
<g id="a29"><ellipse class="te" cx="395" cy="154" rx="4.4" ry="5.4"/></g>
<g id="a30"><ellipse class="sl" cx="430" cy="161" rx="4.4" ry="5.4"/></g>
<g id="a31"><ellipse class="te" cx="708" cy="160" rx="4.4" ry="5.4"/></g>
<g id="a32"><ellipse class="te" cx="197" cy="160" rx="4.4" ry="5.4"/></g>
<g id="a33"><ellipse class="te" cx="508" cy="169" rx="4.4" ry="5.4"/></g>
<g id="a34"><ellipse class="bl" cx="69" cy="182" rx="4.4" ry="5.4"/></g>
<g id="a35"><ellipse class="ma" cx="242" cy="178" rx="4.4" ry="5.4"/></g>
<g id="a36"><ellipse class="ye" cx="316" cy="171" rx="8.5" ry="10.5"/></g>
<g id="a37"><ellipse class="te" cx="346" cy="181" rx="4.4" ry="5.4"/></g>
<g id="a38"><ellipse class="ma" cx="376" cy="185" rx="4.4" ry="5.4"/></g>
<g id="a39"><ellipse class="or" cx="407" cy="185" rx="4.4" ry="5.4"/></g>
<g id="a40"><ellipse class="or" cx="465" cy="175" rx="4.4" ry="5.4"/></g>
<g id="a41"><ellipse class="vi" cx="285" cy="196" rx="4.4" ry="5.4"/></g>
<g id="a42"><ellipse class="te" cx="434" cy="193" rx="4.4" ry="5.4"/></g>
<g id="a43"><ellipse class="te" cx="606" cy="199" rx="4.4" ry="5.4"/></g>
<g id="a44"><ellipse class="te" cx="677" cy="206" rx="4.4" ry="5.4"/></g>
<g id="a45"><ellipse class="sa" cx="723" cy="214" rx="4.4" ry="5.4"/></g>
<g id="a46"><ellipse class="ol" cx="760" cy="240" rx="8" ry="9.5"/></g>
<g id="a47"><ellipse class="te" cx="153" cy="208" rx="4.4" ry="5.4"/></g>
<g id="a48"><ellipse class="ma" cx="321" cy="212" rx="4.4" ry="5.4"/></g>
<g id="a49"><ellipse class="ye" cx="346" cy="212" rx="4.4" ry="5.4"/></g>
<g id="a50"><ellipse class="te" cx="368" cy="212" rx="4.4" ry="5.4"/></g>
<g id="a51"><ellipse class="sa" cx="391" cy="207" rx="4.4" ry="5.4"/></g>
<g id="a52"><ellipse class="te" cx="412" cy="211" rx="4.4" ry="5.4"/></g>
<g id="a53"><ellipse class="or" cx="431" cy="219" rx="4.4" ry="5.4"/></g>
<g id="a54"><ellipse class="or" cx="456" cy="210" rx="4.4" ry="5.4"/></g>
<g id="a55"><ellipse class="or" cx="487" cy="204" rx="4.4" ry="5.4"/></g>
<g id="a56"><ellipse class="ye" cx="548" cy="212" rx="4.4" ry="5.4"/></g>
<g id="a57"><ellipse class="te" cx="208" cy="234" rx="4.4" ry="5.4"/></g>
<g id="a58"><ellipse class="te" cx="256" cy="231" rx="4.4" ry="5.4"/></g>
<g id="a59"><ellipse class="te" cx="296" cy="236" rx="4.4" ry="5.4"/></g>
<g id="a60"><ellipse class="or" cx="381" cy="227" rx="4.4" ry="5.4"/></g>
<g id="a61"><ellipse class="cr" cx="397" cy="230" rx="4.4" ry="5.4"/></g>
<g id="a62"><ellipse class="te" cx="412" cy="232" rx="4.4" ry="5.4"/></g>
<g id="a63"><ellipse class="te" cx="426" cy="239" rx="4.4" ry="5.4"/></g>
<g id="a64"><ellipse class="sa" cx="446" cy="236" rx="4.4" ry="5.4"/></g>
<g id="a65"><ellipse class="or" cx="471" cy="237" rx="4.4" ry="5.4"/></g>
<g id="a66"><ellipse class="te" cx="505" cy="233" rx="4.4" ry="5.4"/></g>
<g id="a67"><ellipse class="or" cx="667" cy="243" rx="4.4" ry="5.4"/></g>
<g id="a68"><ellipse class="te" cx="321" cy="248" rx="4.4" ry="5.4"/></g>
<g id="a69"><ellipse class="te" cx="340" cy="240" rx="4.4" ry="5.4"/></g>
<g id="a70"><ellipse class="ye" cx="358" cy="237" rx="4.4" ry="5.4"/></g>
<g id="a71"><ellipse class="te" cx="372" cy="243" rx="4.4" ry="5.4"/></g>
<g id="a72"><ellipse class="or" cx="384" cy="247" rx="4.4" ry="5.4"/></g>
<g id="a73"><ellipse class="or" cx="405" cy="249" rx="4.4" ry="5.4"/></g>
<g id="a74"><ellipse class="ye" cx="418" cy="253" rx="4.4" ry="5.4"/></g>
<g id="a75"><ellipse class="te" cx="435" cy="254" rx="4.4" ry="5.4"/></g>
<g id="a76"><ellipse class="ye" cx="455" cy="256" rx="4.4" ry="5.4"/></g>
<g id="a77"><ellipse class="te" cx="394" cy="252" rx="4.4" ry="5.4"/></g>
<g id="a78"><ellipse class="ye" cx="112" cy="258" rx="4.4" ry="5.4"/></g>
<g id="a79"><ellipse class="te" cx="363" cy="258" rx="4.4" ry="5.4"/></g>
<g id="a80"><ellipse class="te" cx="377" cy="263" rx="4.4" ry="5.4"/></g>
<g id="a81"><ellipse class="ye" cx="335" cy="267" rx="7.5" ry="9"/></g>
<g id="a82"><ellipse class="or" cx="352" cy="266" rx="7.5" ry="9"/></g>
<g id="a83"><ellipse class="te" cx="388" cy="267" rx="4.4" ry="5.4"/></g>
<g id="a84"><ellipse class="or" cx="400" cy="266" rx="4.4" ry="5.4"/></g>
<g id="a85"><ellipse class="ye" cx="411" cy="266" rx="4.4" ry="5.4"/></g>
<g id="a86"><ellipse class="sa" cx="426" cy="268" rx="4.4" ry="5.4"/></g>
<g id="a87"><ellipse class="te" cx="442" cy="273" rx="4.4" ry="5.4"/></g>
<g id="a88"><ellipse class="ye" cx="461" cy="276" rx="4.4" ry="5.4"/></g>
<g id="a89"><ellipse class="te" cx="487" cy="267" rx="4.4" ry="5.4"/></g>
<g id="a90"><ellipse class="ye" cx="534" cy="263" rx="4.4" ry="5.4"/></g>
<g id="a91"><ellipse class="ma" cx="594" cy="271" rx="4.4" ry="5.4"/></g>
<g id="a92"><ellipse class="pg" cx="276" cy="269" rx="4.4" ry="5.4"/></g>
<g id="a93"><ellipse class="pg" cx="307" cy="273" rx="4.4" ry="5.4"/></g>
<g id="a94"><ellipse class="ye" cx="368" cy="274" rx="4.4" ry="5.4"/></g>
<g id="a95"><ellipse class="ye" cx="381" cy="280" rx="4.4" ry="5.4"/></g>
<g id="a96"><ellipse class="or" cx="396" cy="277" rx="4.4" ry="5.4"/></g>
<g id="a97"><ellipse class="or" cx="407" cy="279" rx="4.4" ry="5.4"/></g>
<g id="a98"><ellipse class="or" cx="418" cy="277" rx="4.4" ry="5.4"/></g>
<g id="a99"><ellipse class="or" cx="432" cy="285" rx="4.4" ry="5.4"/></g>
<g id="a100"><ellipse class="te" cx="234" cy="280" rx="4.4" ry="5.4"/></g>
<g id="a101"><ellipse class="bl" cx="168" cy="288" rx="4.4" ry="5.4"/></g>
<g id="a102"><ellipse class="bl" cx="68" cy="301" rx="4.4" ry="5.4"/></g>
<g id="a103"><ellipse class="te" cx="326" cy="290" rx="4.4" ry="5.4"/></g>
<g id="a104"><ellipse class="pg" cx="345" cy="288" rx="4.4" ry="5.4"/></g>
<g id="a105"><ellipse class="te" cx="359" cy="288" rx="4.4" ry="5.4"/></g>
<g id="a106"><ellipse class="te" cx="372" cy="290" rx="4.4" ry="5.4"/></g>
<g id="a107"><ellipse class="ol" cx="388" cy="289" rx="4.4" ry="5.4"/></g>
<g id="a108"><ellipse class="te" cx="399" cy="292" rx="4.4" ry="5.4"/></g>
<g id="a109"><ellipse class="ye" cx="410" cy="294" rx="4.4" ry="5.4"/></g>
<g id="a110"><ellipse class="ma" cx="421" cy="294" rx="4.4" ry="5.4"/></g>
<g id="a111"><ellipse class="or" cx="448" cy="295" rx="4.4" ry="5.4"/></g>
<g id="a112"><ellipse class="or" cx="472" cy="298" rx="4.4" ry="5.4"/></g>
<g id="a113"><ellipse class="or" cx="506" cy="300" rx="4.4" ry="5.4"/></g>
<g id="a114"><ellipse class="or" cx="552" cy="312" rx="4.4" ry="5.4"/></g>
<g id="a115"><ellipse class="ol" cx="290" cy="303" rx="4.4" ry="5.4"/></g>
<g id="a116"><ellipse class="or" cx="366" cy="305" rx="4.4" ry="5.4"/></g>
<g id="a117"><ellipse class="pg" cx="380" cy="302" rx="4.4" ry="5.4"/></g>
<g id="a118"><ellipse class="pg" cx="392" cy="303" rx="4.4" ry="5.4"/></g>
<g id="a119"><ellipse class="or" cx="405" cy="307" rx="4.4" ry="5.4"/></g>
<g id="a120"><ellipse class="or" cx="418" cy="309" rx="4.4" ry="5.4"/></g>
<g id="a121"><ellipse class="pg" cx="434" cy="306" rx="4.4" ry="5.4"/></g>
<g id="a122"><ellipse class="pg" cx="351" cy="309" rx="4.4" ry="5.4"/></g>
<g id="a123"><ellipse class="ma" cx="259" cy="317" rx="4.4" ry="5.4"/></g>
<g id="a124"><ellipse class="or" cx="312" cy="316" rx="4.4" ry="5.4"/></g>
<g id="a125"><ellipse class="pg" cx="334" cy="314" rx="4.4" ry="5.4"/></g>
<g id="a126"><ellipse class="mp" cx="373" cy="319" rx="4.4" ry="5.4"/></g>
<g id="a127"><ellipse class="sa" cx="386" cy="317" rx="4.4" ry="5.4"/></g>
<g id="a128"><ellipse class="te" cx="399" cy="319" rx="4.4" ry="5.4"/></g>
<g id="a129"><ellipse class="or" cx="454" cy="319" rx="4.4" ry="5.4"/></g>
<g id="a130"><ellipse class="ma" cx="635" cy="335" rx="4.4" ry="5.4"/></g>
<g id="a131"><ellipse class="ol" cx="710" cy="329" rx="4.4" ry="5.4"/></g>
<g id="a132"><ellipse class="pg" cx="204" cy="332" rx="4.4" ry="5.4"/></g>
<g id="a133"><ellipse class="pg" cx="359" cy="326" rx="4.4" ry="5.4"/></g>
<g id="a134"><ellipse class="ye" cx="413" cy="328" rx="4.4" ry="5.4"/></g>
<g id="a135"><ellipse class="pg" cx="432" cy="325" rx="4.4" ry="5.4"/></g>
<g id="a136"><ellipse class="ol" cx="482" cy="331" rx="4.4" ry="5.4"/></g>
<g id="a137"><ellipse class="ol" cx="342" cy="337" rx="4.4" ry="5.4"/></g>
<g id="a138"><ellipse class="ol" cx="378" cy="336" rx="4.4" ry="5.4"/></g>
<g id="a139"><ellipse class="pg" cx="394" cy="334" rx="4.4" ry="5.4"/></g>
<g id="a140"><ellipse class="te" cx="139" cy="360" rx="4.4" ry="5.4"/></g>
<g id="a141"><ellipse class="pg" cx="243" cy="362" rx="4.4" ry="5.4"/></g>
<g id="a142"><ellipse class="or" cx="287" cy="350" rx="4.4" ry="5.4"/></g>
<g id="a143"><ellipse class="te" cx="320" cy="348" rx="4.4" ry="5.4"/></g>
<g id="a144"><ellipse class="or" cx="363" cy="351" rx="4.4" ry="5.4"/></g>
<g id="a145"><ellipse class="sa" cx="406" cy="351" rx="4.4" ry="5.4"/></g>
<g id="a146"><ellipse class="te" cx="425" cy="351" rx="4.4" ry="5.4"/></g>
<g id="a147"><ellipse class="te" cx="451" cy="344" rx="4.4" ry="5.4"/></g>
<g id="a148"><ellipse class="te" cx="522" cy="350" rx="4.4" ry="5.4"/></g>
<g id="a149"><ellipse class="ye" cx="386" cy="358" rx="4.4" ry="5.4"/></g>
<g id="a150"><ellipse class="or" cx="343" cy="372" rx="4.4" ry="5.4"/></g>
<g id="a151"><ellipse class="te" cx="370" cy="382" rx="4.4" ry="5.4"/></g>
<g id="a152"><ellipse class="or" cx="401" cy="383" rx="4.4" ry="5.4"/></g>
<g id="a153"><ellipse class="te" cx="427" cy="385" rx="4.4" ry="5.4"/></g>
<g id="a154"><ellipse class="or" cx="452" cy="377" rx="4.4" ry="5.4"/></g>
<g id="a155"><ellipse class="or" cx="482" cy="372" rx="4.4" ry="5.4"/></g>
<g id="a156"><ellipse class="or" cx="579" cy="371" rx="4.4" ry="5.4"/></g>
<g id="a157"><ellipse class="te" cx="312" cy="388" rx="4.4" ry="5.4"/></g>
<g id="a158"><ellipse class="pg" cx="268" cy="400" rx="4.4" ry="5.4"/></g>
<g id="a159"><ellipse class="te" cx="77" cy="401" rx="4.4" ry="5.4"/></g>
<g id="a160"><ellipse class="te" cx="203" cy="405" rx="4.4" ry="5.4"/></g>
<g id="a161"><ellipse class="ye" cx="520" cy="406" rx="4.4" ry="5.4"/></g>
<g id="a162"><ellipse class="te" cx="759" cy="395" rx="4.4" ry="5.4"/></g>
<g id="a163"><ellipse class="bl" cx="344" cy="419" rx="4.4" ry="5.4"/></g>
<g id="a164"><ellipse class="pg" cx="383" cy="417" rx="4.4" ry="5.4"/></g>
<g id="a165"><ellipse class="te" cx="420" cy="427" rx="4.4" ry="5.4"/></g>
<g id="a166"><ellipse class="te" cx="462" cy="424" rx="6" ry="7.5"/></g>
<g id="a167"><ellipse class="bl" cx="657" cy="430" rx="4.4" ry="5.4"/></g>
<g id="a168"><ellipse class="te" cx="297" cy="442" rx="4.4" ry="5.4"/></g>
<g id="a169"><ellipse class="pg" cx="155" cy="454" rx="4.4" ry="5.4"/></g>
<g id="a170"><ellipse class="bl" cx="245" cy="461" rx="4.4" ry="5.4"/></g>
<g id="a171"><ellipse class="or" cx="574" cy="450" rx="4.4" ry="5.4"/></g>
<g id="a172"><ellipse class="ye" cx="379" cy="468" rx="4.4" ry="5.4"/></g>
<g id="a173"><ellipse class="pg" cx="499" cy="467" rx="4.4" ry="5.4"/></g>
<g id="a174"><ellipse class="te" cx="329" cy="478" rx="4.4" ry="5.4"/></g>
<g id="a175"><ellipse class="ol" cx="427" cy="485" rx="4.4" ry="5.4"/></g>
<g id="a176"><ellipse class="te" cx="72" cy="503" rx="4.4" ry="5.4"/></g>
<g id="a177"><ellipse class="or" cx="732" cy="500" rx="4.4" ry="5.4"/></g>
<g id="a178"><ellipse class="ta" cx="136" cy="533" rx="4.4" ry="5.4"/></g>
<g id="a179"><ellipse class="or" cx="225" cy="530" rx="4.4" ry="5.4"/></g>
<g id="a180"><ellipse class="ol" cx="294" cy="538" rx="4.4" ry="5.4"/></g>
<g id="a181"><ellipse class="or" cx="361" cy="538" rx="4.4" ry="5.4"/></g>
<g id="a182"><ellipse class="or" cx="467" cy="533" rx="4.4" ry="5.4"/></g>
<g id="a183"><ellipse class="bl" cx="540" cy="532" rx="4.4" ry="5.4"/></g>
<g id="a184"><ellipse class="te" cx="625" cy="530" rx="4.4" ry="5.4"/></g>
<g id="a185"><ellipse class="te" cx="409" cy="570" rx="4.4" ry="5.4"/></g>
<g id="a186"><ellipse class="or" cx="172" cy="601" rx="4.4" ry="5.4"/></g>
<g id="a187"><ellipse class="te" cx="87" cy="619" rx="4.4" ry="5.4"/></g>
<g id="a188"><ellipse class="pg" cx="310" cy="621" rx="4.4" ry="5.4"/></g>
<g id="a189"><ellipse class="bl" cx="229" cy="630" rx="4.4" ry="5.4"/></g>
<g id="a190"><ellipse class="bl" cx="396" cy="636" rx="4.4" ry="5.4"/></g>
<g id="a191"><ellipse class="mp" cx="483" cy="620" rx="4.4" ry="5.4"/></g>
<g id="a192"><ellipse class="or" cx="568" cy="622" rx="4.4" ry="5.4"/></g>
<g id="a193"><ellipse class="pg" cx="664" cy="616" rx="4.4" ry="5.4"/></g>
<g id="a194"><ellipse class="te" cx="753" cy="605" rx="4.4" ry="5.4"/></g>
<g id="a195"><ellipse class="cr" cx="452" cy="666" rx="4.4" ry="5.4"/></g>
<g id="a196"><ellipse class="te" cx="498" cy="674" rx="4.4" ry="5.4"/></g>
<g id="a197"><ellipse class="te" cx="581" cy="666" rx="4.4" ry="5.4"/></g>
<g id="a198"><ellipse class="te" cx="626" cy="674" rx="4.4" ry="5.4"/></g>
</g>
<g id="nodes-B">
<g id="b1"><ellipse class="te" cx="945" cy="45" rx="4.4" ry="5.4"/></g>
<g id="b2"><ellipse class="te" cx="1097" cy="29" rx="4.4" ry="5.4"/></g>
<g id="b3"><ellipse class="bl" cx="1211" cy="29" rx="4.4" ry="5.4"/></g>
<g id="b4"><ellipse class="bl" cx="1326" cy="27" rx="4.4" ry="5.4"/></g>
<g id="b5"><ellipse class="cr" cx="1496" cy="29" rx="4.4" ry="5.4"/></g>
<g id="b6"><ellipse class="bl" cx="917" cy="106" rx="4.4" ry="5.4"/></g>
<g id="b7"><ellipse class="bl" cx="965" cy="113" rx="4.4" ry="5.4"/></g>
<g id="b8"><ellipse class="cr" cx="1071" cy="132" rx="13" ry="12.5"/></g>
<g id="b9"><ellipse class="ch" cx="1169" cy="128" rx="4.4" ry="5.4"/></g>
<g id="b10"><ellipse class="cr" cx="1247" cy="130" rx="4.4" ry="5.4"/></g>
<g id="b11"><ellipse class="cr" cx="1378" cy="116" rx="4.4" ry="5.4"/></g>
<g id="b12"><ellipse class="cr" cx="1307" cy="145" rx="4.4" ry="5.4"/></g>
<g id="b13"><ellipse class="pg" cx="1542" cy="147" rx="4.4" ry="5.4"/></g>
<g id="b14"><ellipse class="pg" cx="1423" cy="170" rx="4.4" ry="5.4"/></g>
<g id="b15"><ellipse class="cr" cx="921" cy="191" rx="4.4" ry="5.4"/></g>
<g id="b16"><ellipse class="pg" cx="1033" cy="191" rx="4.4" ry="5.4"/></g>
<g id="b17"><ellipse class="cr" cx="1122" cy="186" rx="4.4" ry="5.4"/></g>
<g id="b18"><ellipse class="te" cx="1169" cy="188" rx="4.4" ry="5.4"/></g>
<g id="b19"><ellipse class="cr" cx="1210" cy="183" rx="4.4" ry="5.4"/></g>
<g id="b20"><ellipse class="bl" cx="1272" cy="189" rx="4.4" ry="5.4"/></g>
<g id="b21"><ellipse class="cr" cx="1240" cy="200" rx="4.4" ry="5.4"/></g>
<g id="b22"><ellipse class="bl" cx="1313" cy="202" rx="4.4" ry="5.4"/></g>
<g id="b23"><ellipse class="cr" cx="1358" cy="196" rx="4.4" ry="5.4"/></g>
<g id="b24"><ellipse class="cr" cx="1168" cy="222" rx="4.4" ry="5.4"/></g>
<g id="b25"><ellipse class="cr" cx="1212" cy="224" rx="4.4" ry="5.4"/></g>
<g id="b26"><ellipse class="cr" cx="1253" cy="229" rx="4.4" ry="5.4"/></g>
<g id="b27"><ellipse class="bl" cx="1281" cy="224" rx="4.4" ry="5.4"/></g>
<g id="b28"><ellipse class="cr" cx="1327" cy="237" rx="9.5" ry="10"/></g>
<g id="b29"><ellipse class="bl" cx="1458" cy="227" rx="4.4" ry="5.4"/></g>
<g id="b30"><ellipse class="mp" cx="1095" cy="233" rx="4.4" ry="5.4"/></g>
<g id="b31"><ellipse class="vi" cx="1141" cy="246" rx="4.4" ry="5.4"/></g>
<g id="b32"><ellipse class="or" cx="1194" cy="245" rx="4.4" ry="5.4"/></g>
<g id="b33"><ellipse class="or" cx="1300" cy="237" rx="4.4" ry="5.4"/></g>
<g id="b34"><ellipse class="cr" cx="1232" cy="243" rx="4.4" ry="5.4"/></g>
<g id="b35"><ellipse class="cr" cx="1273" cy="247" rx="4.4" ry="5.4"/></g>
<g id="b36"><ellipse class="bl" cx="1355" cy="244" rx="4.4" ry="5.4"/></g>
<g id="b37"><ellipse class="bl" cx="1392" cy="244" rx="4.4" ry="5.4"/></g>
<g id="b38"><ellipse class="ch" cx="1170" cy="252" rx="5" ry="6.2"/></g>
<g id="b39"><ellipse class="or" cx="1212" cy="257" rx="4.4" ry="5.4"/></g>
<g id="b40"><ellipse class="ol" cx="1250" cy="254" rx="4.4" ry="5.4"/></g>
<g id="b41"><ellipse class="or" cx="1304" cy="257" rx="4.4" ry="5.4"/></g>
<g id="b42"><ellipse class="bl" cx="1284" cy="262" rx="4.4" ry="5.4"/></g>
<g id="b43"><ellipse class="pg" cx="1265" cy="265" rx="4.4" ry="5.4"/></g>
<g id="b44"><ellipse class="cr" cx="1328" cy="266" rx="4.4" ry="5.4"/></g>
<g id="b45"><ellipse class="ye" cx="1547" cy="265" rx="4.4" ry="5.4"/></g>
<g id="b46"><ellipse class="pu" cx="1425" cy="278" rx="4.4" ry="5.4"/></g>
<g id="b47"><ellipse class="cr" cx="1015" cy="264" rx="4.4" ry="5.4"/></g>
<g id="b48"><ellipse class="cr" cx="1129" cy="277" rx="4.4" ry="5.4"/></g>
<g id="b49"><ellipse class="ch" cx="1167" cy="280" rx="8.5" ry="9.5"/></g>
<g id="b50"><ellipse class="or" cx="1191" cy="273" rx="4.4" ry="5.4"/></g>
<g id="b51"><ellipse class="or" cx="1214" cy="277" rx="4.4" ry="5.4"/></g>
<g id="b52"><ellipse class="cr" cx="1232" cy="267" rx="4.4" ry="5.4"/></g>
<g id="b53"><ellipse class="ma" cx="1248" cy="272" rx="4.4" ry="5.4"/></g>
<g id="b54"><ellipse class="cr" cx="1261" cy="279" rx="4.4" ry="5.4"/></g>
<g id="b55"><ellipse class="bl" cx="1276" cy="276" rx="4.4" ry="5.4"/></g>
<g id="b56"><ellipse class="ch" cx="1302" cy="273" rx="4.4" ry="5.4"/></g>
<g id="b57"><ellipse class="pg" cx="1288" cy="282" rx="4.4" ry="5.4"/></g>
<g id="b58"><ellipse class="bl" cx="1353" cy="280" rx="4.4" ry="5.4"/></g>
<g id="b59"><ellipse class="ol" cx="1084" cy="283" rx="4.4" ry="5.4"/></g>
<g id="b60"><ellipse class="ch" cx="1228" cy="287" rx="5.5" ry="6.5"/></g>
<g id="b61"><ellipse class="or" cx="1244" cy="287" rx="4.4" ry="5.4"/></g>
<g id="b62"><ellipse class="ch" cx="1258" cy="293" rx="6" ry="7.5"/></g>
<g id="b63"><ellipse class="bl" cx="1272" cy="290" rx="4.4" ry="5.4"/></g>
<g id="b64"><ellipse class="cr" cx="1308" cy="285" rx="4.4" ry="5.4"/></g>
<g id="b65"><ellipse class="cr" cx="1327" cy="289" rx="4.4" ry="5.4"/></g>
<g id="b66"><ellipse class="sa" cx="1381" cy="294" rx="4.4" ry="5.4"/></g>
<g id="b67"><ellipse class="ye" cx="1206" cy="294" rx="4.4" ry="5.4"/></g>
<g id="b68"><ellipse class="bl" cx="1283" cy="295" rx="4.4" ry="5.4"/></g>
<g id="b69"><ellipse class="cr" cx="1296" cy="296" rx="4.4" ry="5.4"/></g>
<g id="b70"><ellipse class="pg" cx="1309" cy="301" rx="4.4" ry="5.4"/></g>
<g id="b71"><ellipse class="cr" cx="1341" cy="306" rx="4.4" ry="5.4"/></g>
<g id="b72"><ellipse class="ol" cx="1152" cy="302" rx="4.4" ry="5.4"/></g>
<g id="b73"><ellipse class="or" cx="1186" cy="302" rx="4.4" ry="5.4"/></g>
<g id="b74"><ellipse class="or" cx="1222" cy="303" rx="4.4" ry="5.4"/></g>
<g id="b75"><ellipse class="cr" cx="1240" cy="301" rx="4.4" ry="5.4"/></g>
<g id="b76"><ellipse class="bl" cx="1256" cy="305" rx="4.4" ry="5.4"/></g>
<g id="b77"><ellipse class="cr" cx="1270" cy="301" rx="4.4" ry="5.4"/></g>
<g id="b78"><ellipse class="cr" cx="1283" cy="307" rx="4.4" ry="5.4"/></g>
<g id="b79"><ellipse class="bl" cx="1296" cy="308" rx="4.4" ry="5.4"/></g>
<g id="b80"><ellipse class="bl" cx="1321" cy="310" rx="4.4" ry="5.4"/></g>
<g id="b81"><ellipse class="cr" cx="1459" cy="308" rx="4.4" ry="5.4"/></g>
<g id="b82"><ellipse class="ol" cx="1113" cy="316" rx="4.4" ry="5.4"/></g>
<g id="b83"><ellipse class="cr" cx="1209" cy="317" rx="4.4" ry="5.4"/></g>
<g id="b84"><ellipse class="cr" cx="1228" cy="317" rx="4.4" ry="5.4"/></g>
<g id="b85"><ellipse class="cr" cx="1244" cy="313" rx="4.4" ry="5.4"/></g>
<g id="b86"><ellipse class="cr" cx="1256" cy="319" rx="4.4" ry="5.4"/></g>
<g id="b87"><ellipse class="cr" cx="1268" cy="314" rx="4.4" ry="5.4"/></g>
<g id="b88"><ellipse class="cr" cx="1280" cy="319" rx="4.4" ry="5.4"/></g>
<g id="b89"><ellipse class="bl" cx="1293" cy="320" rx="4.4" ry="5.4"/></g>
<g id="b90"><ellipse class="cr" cx="1306" cy="319" rx="4.4" ry="5.4"/></g>
<g id="b91"><ellipse class="bl" cx="1361" cy="321" rx="4.4" ry="5.4"/></g>
<g id="b92"><ellipse class="si" cx="917" cy="327" rx="4.4" ry="5.4"/></g>
<g id="b93"><ellipse class="ol" cx="1037" cy="328" rx="4.4" ry="5.4"/></g>
<g id="b94"><ellipse class="cr" cx="1169" cy="323" rx="4.4" ry="5.4"/></g>
<g id="b95"><ellipse class="sl" cx="1193" cy="327" rx="4.4" ry="5.4"/></g>
<g id="b96"><ellipse class="te" cx="1241" cy="326" rx="4.4" ry="5.4"/></g>
<g id="b97"><ellipse class="ma" cx="1266" cy="329" rx="4.4" ry="5.4"/></g>
<g id="b98"><ellipse class="bl" cx="1278" cy="330" rx="4.4" ry="5.4"/></g>
<g id="b99"><ellipse class="bl" cx="1292" cy="333" rx="4.4" ry="5.4"/></g>
<g id="b100"><ellipse class="cr" cx="1319" cy="329" rx="4.4" ry="5.4"/></g>
<g id="b101"><ellipse class="bl" cx="1336" cy="330" rx="4.4" ry="5.4"/></g>
<g id="b102"><ellipse class="cr" cx="1402" cy="326" rx="4.4" ry="5.4"/></g>
<g id="b103"><ellipse class="or" cx="1140" cy="337" rx="4.4" ry="5.4"/></g>
<g id="b104"><ellipse class="cr" cx="1221" cy="335" rx="4.4" ry="5.4"/></g>
<g id="b105"><ellipse class="cr" cx="1254" cy="335" rx="4.4" ry="5.4"/></g>
<g id="b106"><ellipse class="bl" cx="1307" cy="338" rx="4.4" ry="5.4"/></g>
<g id="b107"><ellipse class="ch" cx="1089" cy="360" rx="4.4" ry="5.4"/></g>
<g id="b108"><ellipse class="cr" cx="1176" cy="353" rx="4.4" ry="5.4"/></g>
<g id="b109"><ellipse class="cr" cx="1203" cy="348" rx="4.4" ry="5.4"/></g>
<g id="b110"><ellipse class="cr" cx="1230" cy="353" rx="4.4" ry="5.4"/></g>
<g id="b111"><ellipse class="ch" cx="1241" cy="341" rx="4.4" ry="5.4"/></g>
<g id="b112"><ellipse class="bl" cx="1263" cy="347" rx="4.4" ry="5.4"/></g>
<g id="b113"><ellipse class="te" cx="1278" cy="345" rx="4.4" ry="5.4"/></g>
<g id="b114"><ellipse class="cr" cx="1298" cy="350" rx="4.4" ry="5.4"/></g>
<g id="b115"><ellipse class="bl" cx="1322" cy="352" rx="4.4" ry="5.4"/></g>
<g id="b116"><ellipse class="cr" cx="1347" cy="351" rx="4.4" ry="5.4"/></g>
<g id="b117"><ellipse class="cr" cx="1374" cy="349" rx="4.4" ry="5.4"/></g>
<g id="b118"><ellipse class="cr" cx="1459" cy="354" rx="4.4" ry="5.4"/></g>
<g id="b119"><ellipse class="te" cx="1550" cy="363" rx="4.4" ry="5.4"/></g>
<g id="b120"><ellipse class="cr" cx="1139" cy="371" rx="4.4" ry="5.4"/></g>
<g id="b121"><ellipse class="cr" cx="1215" cy="366" rx="4.4" ry="5.4"/></g>
<g id="b122"><ellipse class="cr" cx="1249" cy="359" rx="4.4" ry="5.4"/></g>
<g id="b123"><ellipse class="cr" cx="1265" cy="366" rx="4.4" ry="5.4"/></g>
<g id="b124"><ellipse class="cr" cx="1285" cy="362" rx="4.4" ry="5.4"/></g>
<g id="b125"><ellipse class="ch" cx="1307" cy="374" rx="7" ry="8"/></g>
<g id="b126"><ellipse class="cr" cx="1338" cy="376" rx="4.4" ry="5.4"/></g>
<g id="b127"><ellipse class="cr" cx="1410" cy="371" rx="4.4" ry="5.4"/></g>
<g id="b128"><ellipse class="bl" cx="1194" cy="382" rx="6.5" ry="7.5"/></g>
<g id="b129"><ellipse class="te" cx="1236" cy="374" rx="4.4" ry="5.4"/></g>
<g id="b130"><ellipse class="mp" cx="1279" cy="380" rx="4.4" ry="5.4"/></g>
<g id="b131"><ellipse class="te" cx="1372" cy="380" rx="4.4" ry="5.4"/></g>
<g id="b132"><ellipse class="te" cx="1009" cy="399" rx="4.4" ry="5.4"/></g>
<g id="b133"><ellipse class="cr" cx="1163" cy="399" rx="4.4" ry="5.4"/></g>
<g id="b134"><ellipse class="bl" cx="1221" cy="399" rx="4.4" ry="5.4"/></g>
<g id="b135"><ellipse class="cr" cx="1254" cy="393" rx="4.4" ry="5.4"/></g>
<g id="b136"><ellipse class="pg" cx="1291" cy="400" rx="4.4" ry="5.4"/></g>
<g id="b137"><ellipse class="ye" cx="1322" cy="400" rx="4.4" ry="5.4"/></g>
<g id="b138"><ellipse class="cr" cx="1357" cy="408" rx="4.4" ry="5.4"/></g>
<g id="b139"><ellipse class="te" cx="1460" cy="407" rx="4.4" ry="5.4"/></g>
<g id="b140"><ellipse class="ol" cx="1097" cy="420" rx="4.4" ry="5.4"/></g>
<g id="b141"><ellipse class="ch" cx="1216" cy="430" rx="4.4" ry="5.4"/></g>
<g id="b142"><ellipse class="cr" cx="1260" cy="425" rx="4.4" ry="5.4"/></g>
<g id="b143"><ellipse class="bl" cx="1300" cy="428" rx="4.4" ry="5.4"/></g>
<g id="b144"><ellipse class="bl" cx="1333" cy="430" rx="4.4" ry="5.4"/></g>
<g id="b145"><ellipse class="te" cx="1403" cy="418" rx="4.4" ry="5.4"/></g>
<g id="b146"><ellipse class="mp" cx="1366" cy="439" rx="4.4" ry="5.4"/></g>
<g id="b147"><ellipse class="cr" cx="1162" cy="449" rx="4.4" ry="5.4"/></g>
<g id="b148"><ellipse class="mp" cx="1283" cy="458" rx="4.4" ry="5.4"/></g>
<g id="b149"><ellipse class="mp" cx="1331" cy="455" rx="4.4" ry="5.4"/></g>
<g id="b150"><ellipse class="mp" cx="1394" cy="460" rx="4.4" ry="5.4"/></g>
<g id="b151"><ellipse class="mp" cx="1453" cy="465" rx="4.4" ry="5.4"/></g>
<g id="b152"><ellipse class="mp" cx="1546" cy="453" rx="4.4" ry="5.4"/></g>
<g id="b153"><ellipse class="mp" cx="1222" cy="476" rx="4.4" ry="5.4"/></g>
<g id="b154"><ellipse class="mp" cx="1314" cy="480" rx="4.4" ry="5.4"/></g>
<g id="b155"><ellipse class="mp" cx="1357" cy="476" rx="4.4" ry="5.4"/></g>
<g id="b156"><ellipse class="mp" cx="1417" cy="493" rx="4.4" ry="5.4"/></g>
<g id="b157"><ellipse class="cr" cx="926" cy="483" rx="4.4" ry="5.4"/></g>
<g id="b158"><ellipse class="cr" cx="1055" cy="509" rx="4.4" ry="5.4"/></g>
<g id="b159"><ellipse class="bl" cx="1266" cy="506" rx="4.4" ry="5.4"/></g>
<g id="b160"><ellipse class="mp" cx="1322" cy="511" rx="4.4" ry="5.4"/></g>
<g id="b161"><ellipse class="mp" cx="1369" cy="507" rx="4.4" ry="5.4"/></g>
<g id="b162"><ellipse class="te" cx="1431" cy="531" rx="4.4" ry="5.4"/></g>
<g id="b163"><ellipse class="te" cx="1135" cy="525" rx="4.4" ry="5.4"/></g>
<g id="b164"><ellipse class="mp" cx="1541" cy="547" rx="4.4" ry="5.4"/></g>
<g id="b165"><ellipse class="mp" cx="1312" cy="550" rx="4.4" ry="5.4"/></g>
<g id="b166"><ellipse class="mp" cx="1370" cy="555" rx="4.4" ry="5.4"/></g>
<g id="b167"><ellipse class="bl" cx="1194" cy="557" rx="4.4" ry="5.4"/></g>
<g id="b168"><ellipse class="mp" cx="1257" cy="580" rx="4.4" ry="5.4"/></g>
<g id="b169"><ellipse class="mp" cx="1436" cy="598" rx="4.4" ry="5.4"/></g>
<g id="b170"><ellipse class="mp" cx="1332" cy="614" rx="4.4" ry="5.4"/></g>
<g id="b171"><ellipse class="ch" cx="949" cy="663" rx="8.5" ry="7.5"/></g>
<g id="b172"><ellipse class="bl" cx="1106" cy="675" rx="12" ry="11.5"/></g>
<g id="b173"><ellipse class="mp" cx="1235" cy="697" rx="4.4" ry="5.4"/></g>
<g id="b174"><ellipse class="cr" cx="1529" cy="686" rx="4.4" ry="5.4"/></g>
<g id="b175"><ellipse class="cr" cx="1377" cy="707" rx="4.4" ry="5.4"/></g>
</g>
<g id="titles" class="ttl">
<text x="10" y="34" font-size="34" textLength="22" lengthAdjust="spacingAndGlyphs">A.</text>
<text x="817" y="34" font-size="34" textLength="23" lengthAdjust="spacingAndGlyphs">B.</text>
<text x="793" y="425" font-size="34" textLength="89" lengthAdjust="spacingAndGlyphs">Bacteria</text>
<text x="261" y="714" font-size="35" textLength="60" lengthAdjust="spacingAndGlyphs">L-site</text>
<text x="1133" y="729" font-size="35" textLength="62" lengthAdjust="spacingAndGlyphs">P-site</text>
</g>
<g id="legend-L" class="lg">
<text x="153" y="751">MBNT15</text>
<text x="153" y="782.7">Nitrospirota</text>
<text x="153" y="814.4">Verrucomicrobiota</text>
<text x="153" y="846.1">Myxococcota</text>
<text x="153" y="877.8">Chloroflexi</text>
<text x="153" y="909.5">Bacteroidota</text>
<text x="153" y="941.2">Planctomycetota</text>
<text x="153" y="972.9">Gemmatimonadota</text>
<text x="400" y="751">Desulfobacterota</text>
<text x="400" y="782.7">Acidobacteriota</text>
<text x="400" y="814.4">Bdellovibrionota</text>
<text x="400" y="846.1">Patescibacteria</text>
<text x="400" y="877.8">Actinobacteriota</text>
<text x="400" y="909.5">Firmicutes</text>
<text x="400" y="941.2">SAR324_cladeMarine_group_B</text>
<text x="400" y="972.9">Proteobacteria</text>
<rect class="pu" x="119" y="734.5" width="18" height="21"/>
<rect class="sl" x="119" y="766.2" width="18" height="21"/>
<rect class="ol" x="119" y="797.9" width="18" height="21"/>
<rect class="sa" x="119" y="829.6" width="18" height="21"/>
<rect class="ma" x="119" y="861.3" width="18" height="21"/>
<rect class="pg" x="119" y="893" width="18" height="21"/>
<rect class="ta" x="119" y="924.7" width="18" height="21"/>
<rect class="mp" x="119" y="956.4" width="18" height="21"/>
<rect class="si" x="366" y="734.5" width="18" height="21"/>
<rect class="ye" x="366" y="766.2" width="18" height="21"/>
<rect class="cr" x="366" y="797.9" width="18" height="21"/>
<rect class="vi" x="366" y="829.6" width="18" height="21"/>
<rect class="or" x="366" y="861.3" width="18" height="21"/>
<rect class="bl" x="366" y="893" width="18" height="21"/>
<rect class="ch" x="366" y="924.7" width="18" height="21"/>
<rect class="te" x="366" y="956.4" width="18" height="21"/>
</g>
<g id="legend-P" class="lg">
<text x="1008" y="762" font-size="17.5">Myxococcota</text>
<text x="1008" y="793.2" font-size="17.5">Gemmatimonadota</text>
<text x="1008" y="824.4" font-size="17.5">Planctomycetota</text>
<text x="1008" y="855.6" font-size="17.5">SAR324_cladeMarine_group_B</text>
<text x="1008" y="886.8" font-size="17.5">Chloroflexi</text>
<text x="1008" y="918" font-size="17.5">Acidobacteriota</text>
<text x="1008" y="949.2" font-size="17.5">Nitrospirota</text>
<text x="1008" y="980.4" font-size="17.5">Fibrobacterota</text>
<text x="1270" y="762" font-size="17.5">Firmicutes</text>
<text x="1270" y="793.2" font-size="17.5">Actinobacteriota</text>
<text x="1270" y="824.4" font-size="17.5">Patescibacteria</text>
<text x="1270" y="855.6" font-size="17.5">Verrucomicrobiota</text>
<text x="1270" y="886.8" font-size="17.5">Proteobacteria</text>
<text x="1270" y="918" font-size="17.5">Bacteroidota</text>
<text x="1270" y="949.2" font-size="17.5">Bdellovibrionota</text>
<rect class="pg" x="969" y="745" width="21" height="22"/>
<rect class="ma" x="969" y="776.2" width="21" height="22"/>
<rect class="ye" x="969" y="807.4" width="21" height="22"/>
<rect class="pu" x="969" y="838.6" width="21" height="22"/>
<rect class="ol" x="969" y="869.8" width="21" height="22"/>
<rect class="ch" x="969" y="901" width="21" height="22"/>
<rect class="sa" x="969" y="932.2" width="21" height="22"/>
<rect class="vi" x="969" y="963.4" width="21" height="22"/>
<rect class="mp" x="1232" y="745" width="21" height="22"/>
<rect class="bl" x="1232" y="776.2" width="21" height="22"/>
<rect class="si" x="1232" y="807.4" width="21" height="22"/>
<rect class="or" x="1232" y="838.6" width="21" height="22"/>
<rect class="cr" x="1232" y="869.8" width="21" height="22"/>
<rect class="te" x="1232" y="901" width="21" height="22"/>
<rect class="sl" x="1232" y="932.2" width="21" height="22"/>
</g>
</g>
</svg>
